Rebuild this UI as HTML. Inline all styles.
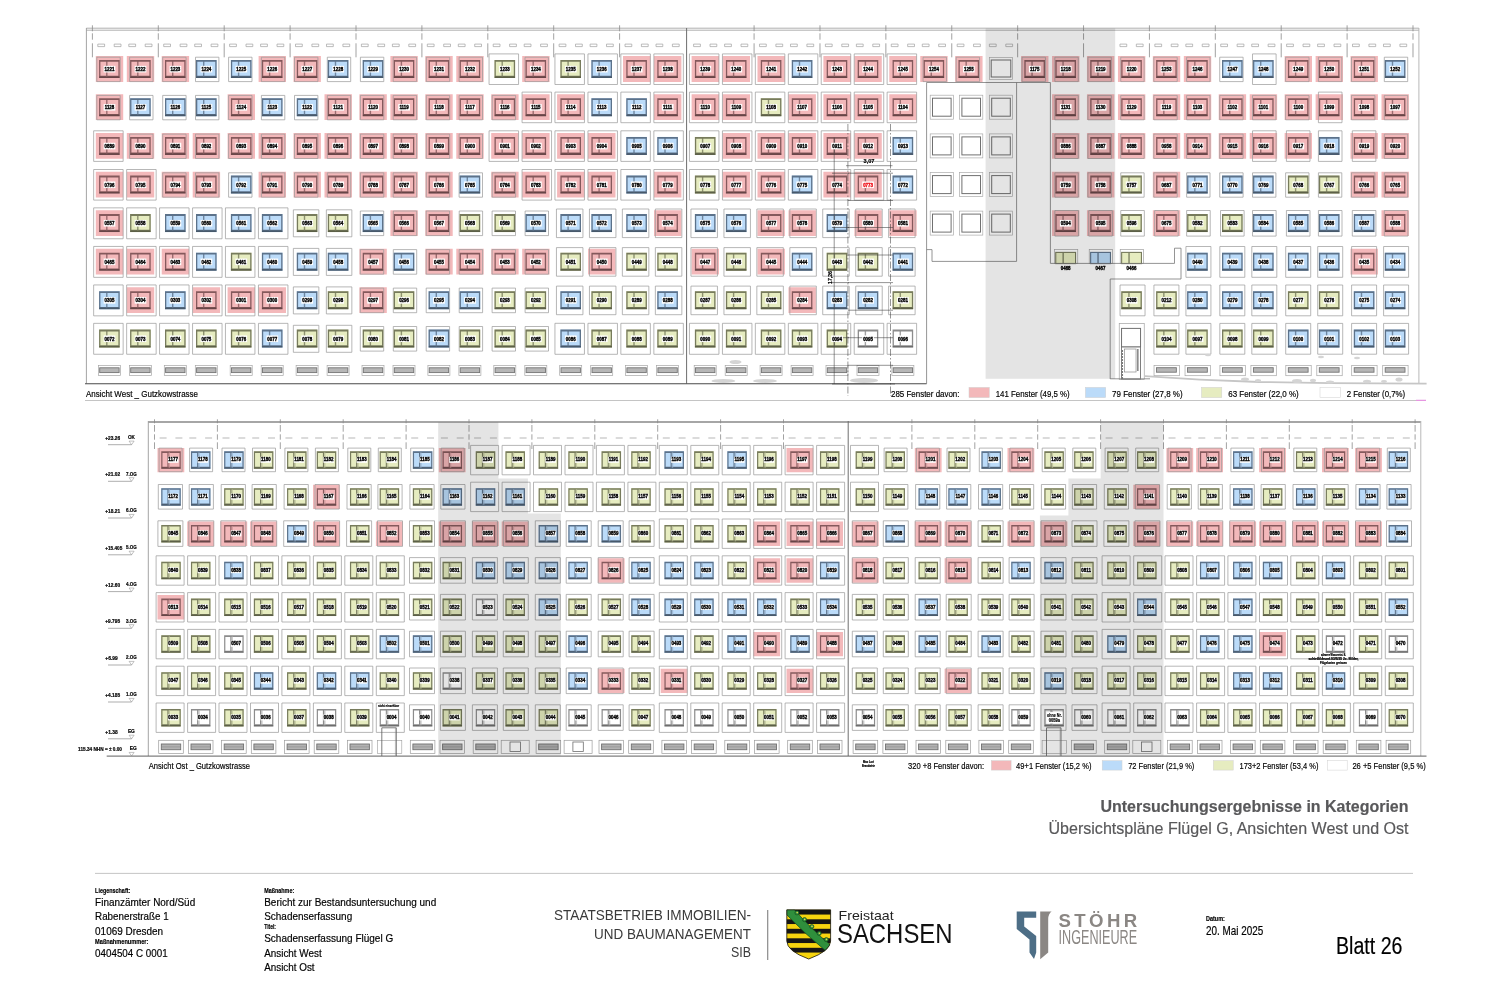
<!DOCTYPE html>
<html><head><meta charset="utf-8"><title>Blatt 26</title>
<style>
html,body{margin:0;padding:0;background:#fff}
body{width:1499px;height:1000px;overflow:hidden;font-family:"Liberation Sans",sans-serif}
svg{display:block}
svg text{font-family:"Liberation Sans",sans-serif}
#lt text{font-size:5.7px;font-weight:bold;text-anchor:middle;stroke:#000;stroke-width:0.4px}
</style></head><body>
<svg width="1499" height="1000" viewBox="0 0 1499 1000">
<defs>
<g id="wR"><rect x="-10.3" y="-9" width="20.6" height="18" fill="#F3B8BA"/><path d="M-10.3 -9h20.6v18h-20.6zM-9 -7.2h18v13.9h-18z" fill="#85595C" fill-rule="evenodd"/><rect x="-10.3" y="7.39" width="20.6" height="1.61" fill="#000" opacity="0.22"/><line x1="-2.6" y1="-8" x2="-2.6" y2="8" stroke="#85595C" stroke-width="1.4" opacity="0.8"/></g>
<g id="eR"><rect x="-9.75" y="-8.75" width="19.5" height="17.5" fill="#F3B8BA"/><path d="M-9.75 -8.75h19.5v17.5h-19.5zM-8.55 -7.15h17.1v13.8h-17.1z" fill="#85595C" fill-rule="evenodd"/><rect x="-9.75" y="7.28" width="19.5" height="1.47" fill="#000" opacity="0.22"/><line x1="-1.75" y1="-7.75" x2="-1.75" y2="7.75" stroke="#C79294" stroke-width="1.5" opacity="0.7"/><line x1="-3.05" y1="-7.75" x2="-3.05" y2="7.75" stroke="#85595C" stroke-width="1.1"/></g>
<g id="wB"><rect x="-10.3" y="-9" width="20.6" height="18" fill="#BBDBF9"/><path d="M-10.3 -9h20.6v18h-20.6zM-9 -7.2h18v13.9h-18z" fill="#5C728A" fill-rule="evenodd"/><rect x="-10.3" y="7.39" width="20.6" height="1.61" fill="#000" opacity="0.22"/><line x1="-2.6" y1="-8" x2="-2.6" y2="8" stroke="#5C728A" stroke-width="1.4" opacity="0.8"/></g>
<g id="eB"><rect x="-9.75" y="-8.75" width="19.5" height="17.5" fill="#BBDBF9"/><path d="M-9.75 -8.75h19.5v17.5h-19.5zM-8.55 -7.15h17.1v13.8h-17.1z" fill="#5C728A" fill-rule="evenodd"/><rect x="-9.75" y="7.28" width="19.5" height="1.47" fill="#000" opacity="0.22"/><line x1="-1.75" y1="-7.75" x2="-1.75" y2="7.75" stroke="#93ADC8" stroke-width="1.5" opacity="0.7"/><line x1="-3.05" y1="-7.75" x2="-3.05" y2="7.75" stroke="#5C728A" stroke-width="1.1"/></g>
<g id="wG"><rect x="-10.3" y="-9" width="20.6" height="18" fill="#E6ECC0"/><path d="M-10.3 -9h20.6v18h-20.6zM-9 -7.2h18v13.9h-18z" fill="#777B5C" fill-rule="evenodd"/><rect x="-10.3" y="7.39" width="20.6" height="1.61" fill="#000" opacity="0.22"/><line x1="-2.6" y1="-8" x2="-2.6" y2="8" stroke="#777B5C" stroke-width="1.4" opacity="0.8"/></g>
<g id="eG"><rect x="-9.75" y="-8.75" width="19.5" height="17.5" fill="#E6ECC0"/><path d="M-9.75 -8.75h19.5v17.5h-19.5zM-8.55 -7.15h17.1v13.8h-17.1z" fill="#777B5C" fill-rule="evenodd"/><rect x="-9.75" y="7.28" width="19.5" height="1.47" fill="#000" opacity="0.22"/><line x1="-1.75" y1="-7.75" x2="-1.75" y2="7.75" stroke="#B5BA93" stroke-width="1.5" opacity="0.7"/><line x1="-3.05" y1="-7.75" x2="-3.05" y2="7.75" stroke="#777B5C" stroke-width="1.1"/></g>
<g id="wW"><rect x="-10.3" y="-9" width="20.6" height="18" fill="#FFFFFF"/><path d="M-10.3 -9h20.6v18h-20.6zM-9 -7.2h18v13.9h-18z" fill="#8C8C8C" fill-rule="evenodd"/><rect x="-10.3" y="7.39" width="20.6" height="1.61" fill="#000" opacity="0.22"/><line x1="-2.6" y1="-8" x2="-2.6" y2="8" stroke="#8C8C8C" stroke-width="1.4" opacity="0.8"/></g>
<g id="eW"><rect x="-9.75" y="-8.75" width="19.5" height="17.5" fill="#FFFFFF"/><path d="M-9.75 -8.75h19.5v17.5h-19.5zM-8.55 -7.15h17.1v13.8h-17.1z" fill="#8C8C8C" fill-rule="evenodd"/><rect x="-9.75" y="7.28" width="19.5" height="1.47" fill="#000" opacity="0.22"/><line x1="-1.75" y1="-7.75" x2="-1.75" y2="7.75" stroke="#B0B0B0" stroke-width="1.5" opacity="0.7"/><line x1="-3.05" y1="-7.75" x2="-3.05" y2="7.75" stroke="#8C8C8C" stroke-width="1.1"/></g>
<g id="tw"><rect x="-11.6" y="-12" width="23.2" height="24" fill="#fff" stroke="#ABABAB" stroke-width="0.7"/><rect x="-9.3" y="-9" width="18.6" height="18" fill="#fff" stroke="#707070" stroke-width="1"/></g>
<g id="bw"><rect x="-11" y="-5" width="22" height="10" fill="#fff" stroke="#A6A6A6" stroke-width="0.7"/><rect x="-9.7" y="-2.6" width="19.4" height="4.8" fill="#B6B6B6" stroke="#747474" stroke-width="0.9"/></g>
<g id="be"><rect x="-12.3" y="-6.6" width="24.6" height="13.2" fill="#fff" stroke="#9C9C9C" stroke-width="0.7"/><rect x="-9.7" y="-2.9" width="19.4" height="5.7" fill="#B2B2B2" stroke="#707070" stroke-width="0.9"/><line x1="-9.7" y1="0" x2="9.7" y2="0" stroke="#8A8A8A" stroke-width="0.6"/></g>
<rect id="lw" x="-5.75" y="-3.15" width="11.7" height="6.6" fill="#fff"/>
<rect id="le" x="-3.1" y="-3.3" width="10.6" height="6" fill="#fff"/>
</defs>
<rect width="1499" height="1000" fill="#fff"/>
<path d="M95.8 56.1h27.4v25.8h-27.4zM126.8 56.1h27.4v25.8h-27.4zM161.7 56.1h27.4v25.8h-27.4zM258.6 56.1h27.4v25.8h-27.4zM293.5 56.1h27.4v25.8h-27.4zM390.4 56.1h27.4v25.8h-27.4zM425.3 56.1h27.4v25.8h-27.4zM456.3 56.1h27.4v25.8h-27.4zM522.2 56.1h27.4v25.8h-27.4zM623 56.1h27.4v25.8h-27.4zM654 56.1h27.4v25.8h-27.4zM691.6 56.1h27.4v25.8h-27.4zM722.6 56.1h27.4v25.8h-27.4zM757.49 56.1h27.4v25.8h-27.4zM823.38 56.1h27.4v25.8h-27.4zM854.38 56.1h27.4v25.8h-27.4zM889.27 56.1h27.4v25.8h-27.4zM920.27 56.1h27.4v25.8h-27.4zM955.16 56.1h27.4v25.8h-27.4zM1021.05 56.1h27.4v25.8h-27.4zM1052.05 56.1h27.4v25.8h-27.4zM1086.94 56.1h27.4v25.8h-27.4zM1117.94 56.1h27.4v25.8h-27.4zM1152.83 56.1h27.4v25.8h-27.4zM1183.83 56.1h27.4v25.8h-27.4zM1284.61 56.1h27.4v25.8h-27.4zM1315.61 56.1h27.4v25.8h-27.4zM1350.5 56.1h27.4v25.8h-27.4zM95.8 94.3h27.4v25.8h-27.4zM227.6 94.3h27.4v25.8h-27.4zM324.5 94.3h27.4v25.8h-27.4zM359.4 94.3h27.4v25.8h-27.4zM390.4 94.3h27.4v25.8h-27.4zM425.3 94.3h27.4v25.8h-27.4zM456.3 94.3h27.4v25.8h-27.4zM491.2 94.3h27.4v25.8h-27.4zM522.2 94.3h27.4v25.8h-27.4zM557.1 94.3h27.4v25.8h-27.4zM654 94.3h27.4v25.8h-27.4zM691.6 94.3h27.4v25.8h-27.4zM722.6 94.3h27.4v25.8h-27.4zM788.49 94.3h27.4v25.8h-27.4zM823.38 94.3h27.4v25.8h-27.4zM854.38 94.3h27.4v25.8h-27.4zM889.27 94.3h27.4v25.8h-27.4zM1052.05 94.3h27.4v25.8h-27.4zM1086.94 94.3h27.4v25.8h-27.4zM1117.94 94.3h27.4v25.8h-27.4zM1152.83 94.3h27.4v25.8h-27.4zM1183.83 94.3h27.4v25.8h-27.4zM1218.72 94.3h27.4v25.8h-27.4zM1249.72 94.3h27.4v25.8h-27.4zM1284.61 94.3h27.4v25.8h-27.4zM1315.61 94.3h27.4v25.8h-27.4zM1350.5 94.3h27.4v25.8h-27.4zM1381.5 94.3h27.4v25.8h-27.4zM95.8 133h27.4v25.8h-27.4zM126.8 133h27.4v25.8h-27.4zM161.7 133h27.4v25.8h-27.4zM192.7 133h27.4v25.8h-27.4zM227.6 133h27.4v25.8h-27.4zM258.6 133h27.4v25.8h-27.4zM293.5 133h27.4v25.8h-27.4zM324.5 133h27.4v25.8h-27.4zM359.4 133h27.4v25.8h-27.4zM390.4 133h27.4v25.8h-27.4zM425.3 133h27.4v25.8h-27.4zM456.3 133h27.4v25.8h-27.4zM491.2 133h27.4v25.8h-27.4zM522.2 133h27.4v25.8h-27.4zM557.1 133h27.4v25.8h-27.4zM588.1 133h27.4v25.8h-27.4zM722.6 133h27.4v25.8h-27.4zM757.49 133h27.4v25.8h-27.4zM788.49 133h27.4v25.8h-27.4zM823.38 133h27.4v25.8h-27.4zM854.38 133h27.4v25.8h-27.4zM1052.05 133h27.4v25.8h-27.4zM1086.94 133h27.4v25.8h-27.4zM1117.94 133h27.4v25.8h-27.4zM1152.83 133h27.4v25.8h-27.4zM1183.83 133h27.4v25.8h-27.4zM1218.72 133h27.4v25.8h-27.4zM1249.72 133h27.4v25.8h-27.4zM1284.61 133h27.4v25.8h-27.4zM1350.5 133h27.4v25.8h-27.4zM1381.5 133h27.4v25.8h-27.4zM95.8 171.7h27.4v25.8h-27.4zM126.8 171.7h27.4v25.8h-27.4zM161.7 171.7h27.4v25.8h-27.4zM192.7 171.7h27.4v25.8h-27.4zM258.6 171.7h27.4v25.8h-27.4zM293.5 171.7h27.4v25.8h-27.4zM324.5 171.7h27.4v25.8h-27.4zM359.4 171.7h27.4v25.8h-27.4zM390.4 171.7h27.4v25.8h-27.4zM425.3 171.7h27.4v25.8h-27.4zM491.2 171.7h27.4v25.8h-27.4zM522.2 171.7h27.4v25.8h-27.4zM557.1 171.7h27.4v25.8h-27.4zM588.1 171.7h27.4v25.8h-27.4zM654 171.7h27.4v25.8h-27.4zM722.6 171.7h27.4v25.8h-27.4zM757.49 171.7h27.4v25.8h-27.4zM823.38 171.7h27.4v25.8h-27.4zM854.38 171.7h27.4v25.8h-27.4zM1052.05 171.7h27.4v25.8h-27.4zM1086.94 171.7h27.4v25.8h-27.4zM1152.83 171.7h27.4v25.8h-27.4zM1350.5 171.7h27.4v25.8h-27.4zM1381.5 171.7h27.4v25.8h-27.4zM95.8 210.2h27.4v25.8h-27.4zM390.4 210.2h27.4v25.8h-27.4zM425.3 210.2h27.4v25.8h-27.4zM654 210.2h27.4v25.8h-27.4zM757.49 210.2h27.4v25.8h-27.4zM788.49 210.2h27.4v25.8h-27.4zM854.38 210.2h27.4v25.8h-27.4zM889.27 210.2h27.4v25.8h-27.4zM1052.05 210.2h27.4v25.8h-27.4zM1086.94 210.2h27.4v25.8h-27.4zM1152.83 210.2h27.4v25.8h-27.4zM1381.5 210.2h27.4v25.8h-27.4zM95.8 248.8h27.4v25.8h-27.4zM126.8 248.8h27.4v25.8h-27.4zM161.7 248.8h27.4v25.8h-27.4zM359.4 248.8h27.4v25.8h-27.4zM425.3 248.8h27.4v25.8h-27.4zM456.3 248.8h27.4v25.8h-27.4zM491.2 248.8h27.4v25.8h-27.4zM522.2 248.8h27.4v25.8h-27.4zM588.1 248.8h27.4v25.8h-27.4zM691.6 248.8h27.4v25.8h-27.4zM757.49 248.8h27.4v25.8h-27.4zM1350.5 248.8h27.4v25.8h-27.4zM126.8 287.3h27.4v25.8h-27.4zM192.7 287.3h27.4v25.8h-27.4zM227.6 287.3h27.4v25.8h-27.4zM258.6 287.3h27.4v25.8h-27.4zM359.4 287.3h27.4v25.8h-27.4zM788.49 287.3h27.4v25.8h-27.4zM157.5 447.9h26.8v24.4h-26.8zM438.8 447.9h26.8v24.4h-26.8zM786.5 447.9h26.8v24.4h-26.8zM914.8 447.9h26.8v24.4h-26.8zM1007.5 447.9h26.8v24.4h-26.8zM1166.4 447.9h26.8v24.4h-26.8zM1196.2 447.9h26.8v24.4h-26.8zM1259.1 447.9h26.8v24.4h-26.8zM1322 447.9h26.8v24.4h-26.8zM1355.1 447.9h26.8v24.4h-26.8zM313 484.7h26.8v24.4h-26.8zM1133.3 484.7h26.8v24.4h-26.8zM187.2 521.5h26.8v24.4h-26.8zM220.4 521.5h26.8v24.4h-26.8zM250.1 521.5h26.8v24.4h-26.8zM313 521.5h26.8v24.4h-26.8zM375.9 521.5h26.8v24.4h-26.8zM438.8 521.5h26.8v24.4h-26.8zM472 521.5h26.8v24.4h-26.8zM501.7 521.5h26.8v24.4h-26.8zM753.3 521.5h26.8v24.4h-26.8zM786.5 521.5h26.8v24.4h-26.8zM816.2 521.5h26.8v24.4h-26.8zM851.9 521.5h26.8v24.4h-26.8zM914.8 521.5h26.8v24.4h-26.8zM944.6 521.5h26.8v24.4h-26.8zM1007.5 521.5h26.8v24.4h-26.8zM1040.6 521.5h26.8v24.4h-26.8zM1133.3 521.5h26.8v24.4h-26.8zM1166.4 521.5h26.8v24.4h-26.8zM1196.2 521.5h26.8v24.4h-26.8zM1229.3 521.5h26.8v24.4h-26.8zM1259.1 521.5h26.8v24.4h-26.8zM1292.2 521.5h26.8v24.4h-26.8zM1322 521.5h26.8v24.4h-26.8zM1355.1 521.5h26.8v24.4h-26.8zM597.8 558.3h26.8v24.4h-26.8zM753.3 558.3h26.8v24.4h-26.8zM786.5 558.3h26.8v24.4h-26.8zM851.9 558.3h26.8v24.4h-26.8zM944.6 558.3h26.8v24.4h-26.8zM157.5 595.1h26.8v24.4h-26.8zM753.3 631.9h26.8v24.4h-26.8zM816.2 631.9h26.8v24.4h-26.8zM1259.1 631.9h26.8v24.4h-26.8zM597.8 668.7h26.8v24.4h-26.8zM660.7 668.7h26.8v24.4h-26.8zM786.5 668.7h26.8v24.4h-26.8zM944.6 668.7h26.8v24.4h-26.8z" fill="#F3B8BA"/>
<path d="M96.8 57.2h23.4v24.4h-23.4zM129.6 57.2h23.4v24.4h-23.4zM162.7 57.2h23.4v24.4h-23.4zM195.5 57.2h23.4v24.4h-23.4zM228.6 57.2h23.4v24.4h-23.4zM261.4 57.2h23.4v24.4h-23.4zM294.5 57.2h23.4v24.4h-23.4zM327.3 57.2h23.4v24.4h-23.4zM360.4 57.2h23.4v24.4h-23.4zM393.2 57.2h23.4v24.4h-23.4zM426.3 57.2h23.4v24.4h-23.4zM459.1 57.2h23.4v24.4h-23.4zM489.05 53.9h29.5v30.6h-29.5zM525 57.2h23.4v24.4h-23.4zM554.95 53.9h29.5v30.6h-29.5zM587.95 53.9h29.5v30.6h-29.5zM620.85 53.9h29.5v30.6h-29.5zM653.85 53.9h29.5v30.6h-29.5zM689.45 53.9h29.5v30.6h-29.5zM722.45 53.9h29.5v30.6h-29.5zM755.34 53.9h29.5v30.6h-29.5zM788.34 53.9h29.5v30.6h-29.5zM821.23 53.9h29.5v30.6h-29.5zM854.23 53.9h29.5v30.6h-29.5zM887.12 53.9h29.5v30.6h-29.5zM923.07 57.2h23.4v24.4h-23.4zM956.16 57.2h23.4v24.4h-23.4zM1022.05 57.2h23.4v24.4h-23.4zM1054.85 57.2h23.4v24.4h-23.4zM1087.94 57.2h23.4v24.4h-23.4zM1120.74 57.2h23.4v24.4h-23.4zM1153.83 57.2h23.4v24.4h-23.4zM1186.63 57.2h23.4v24.4h-23.4zM1219.72 57.2h23.4v24.4h-23.4zM1252.52 53.9h23.6v30.6h-23.6zM1285.61 57.2h23.4v24.4h-23.4zM1318.41 57.2h23.4v24.4h-23.4zM1351.5 57.2h23.4v24.4h-23.4zM1384.3 57.2h23.4v24.4h-23.4zM96.8 95.4h23.4v24.4h-23.4zM129.6 95.4h23.4v24.4h-23.4zM162.7 95.4h23.4v24.4h-23.4zM195.5 95.4h23.4v24.4h-23.4zM228.6 95.4h23.4v24.4h-23.4zM261.4 95.4h23.4v24.4h-23.4zM294.5 95.4h23.4v24.4h-23.4zM327.3 95.4h23.4v24.4h-23.4zM360.4 95.4h23.4v24.4h-23.4zM393.2 95.4h23.4v24.4h-23.4zM426.3 95.4h23.4v24.4h-23.4zM459.1 95.4h23.4v24.4h-23.4zM492.2 95.4h23.4v24.4h-23.4zM522.05 92.1h29.5v30.6h-29.5zM554.95 92.1h29.5v30.6h-29.5zM587.95 92.1h29.5v30.6h-29.5zM620.85 92.1h29.5v30.6h-29.5zM653.85 92.1h29.5v30.6h-29.5zM689.45 92.1h29.5v30.6h-29.5zM722.45 92.1h29.5v30.6h-29.5zM755.34 92.1h29.5v30.6h-29.5zM788.34 92.1h29.5v30.6h-29.5zM821.23 92.1h29.5v30.6h-29.5zM854.23 92.1h29.5v30.6h-29.5zM887.12 92.1h29.5v30.6h-29.5zM1054.85 95.4h23.4v24.4h-23.4zM1087.94 95.4h23.4v24.4h-23.4zM1120.74 95.4h23.4v24.4h-23.4zM1153.83 95.4h23.4v24.4h-23.4zM1186.63 95.4h23.4v24.4h-23.4zM1219.72 95.4h23.4v24.4h-23.4zM1252.52 95.4h23.4v24.4h-23.4zM1285.61 95.4h23.4v24.4h-23.4zM1318.41 92.1h23.6v30.6h-23.6zM1351.5 95.4h23.4v24.4h-23.4zM1384.3 95.4h23.4v24.4h-23.4zM93.65 130.8h29.5v30.6h-29.5zM129.6 134.1h23.4v24.4h-23.4zM162.7 134.1h23.4v24.4h-23.4zM195.5 134.1h23.4v24.4h-23.4zM228.6 134.1h23.4v24.4h-23.4zM261.4 134.1h23.4v24.4h-23.4zM294.5 134.1h23.4v24.4h-23.4zM327.3 134.1h23.4v24.4h-23.4zM360.4 134.1h23.4v24.4h-23.4zM393.2 134.1h23.4v24.4h-23.4zM426.3 134.1h23.4v24.4h-23.4zM459.1 134.1h23.4v24.4h-23.4zM489.05 130.8h29.5v30.6h-29.5zM522.05 130.8h29.5v30.6h-29.5zM554.95 130.8h29.5v30.6h-29.5zM587.95 130.8h29.5v30.6h-29.5zM620.85 130.8h29.5v30.6h-29.5zM653.85 130.8h29.5v30.6h-29.5zM689.45 130.8h29.5v30.6h-29.5zM722.45 130.8h29.5v30.6h-29.5zM755.34 130.8h29.5v30.6h-29.5zM788.34 130.8h29.5v30.6h-29.5zM821.23 130.8h29.5v30.6h-29.5zM854.23 130.8h29.5v30.6h-29.5zM887.12 130.8h29.5v30.6h-29.5zM1054.85 134.1h23.4v24.4h-23.4zM1087.94 134.1h23.4v24.4h-23.4zM1120.74 134.1h23.4v24.4h-23.4zM1153.83 134.1h23.4v24.4h-23.4zM1186.63 134.1h23.4v24.4h-23.4zM1219.72 134.1h23.4v24.4h-23.4zM1252.52 130.8h23.6v30.6h-23.6zM1286.41 130.8h23.6v30.6h-23.6zM1318.41 130.8h23.6v30.6h-23.6zM1352.3 130.8h23.6v30.6h-23.6zM1384.3 134.1h23.4v24.4h-23.4zM93.65 169.5h29.5v30.6h-29.5zM126.65 169.5h29.5v30.6h-29.5zM162.7 172.8h23.4v24.4h-23.4zM195.5 172.8h23.4v24.4h-23.4zM228.6 172.8h23.4v24.4h-23.4zM261.4 172.8h23.4v24.4h-23.4zM294.5 172.8h23.4v24.4h-23.4zM327.3 172.8h23.4v24.4h-23.4zM360.4 172.8h23.4v24.4h-23.4zM393.2 172.8h23.4v24.4h-23.4zM426.3 172.8h23.4v24.4h-23.4zM459.1 172.8h23.4v24.4h-23.4zM492.2 172.8h23.4v24.4h-23.4zM522.05 169.5h29.5v30.6h-29.5zM554.95 169.5h29.5v30.6h-29.5zM587.95 169.5h29.5v30.6h-29.5zM620.85 169.5h29.5v30.6h-29.5zM653.85 169.5h29.5v30.6h-29.5zM689.45 169.5h29.5v30.6h-29.5zM722.45 169.5h29.5v30.6h-29.5zM755.34 169.5h29.5v30.6h-29.5zM788.34 169.5h29.5v30.6h-29.5zM821.23 169.5h29.5v30.6h-29.5zM854.23 169.5h29.5v30.6h-29.5zM887.12 169.5h29.5v30.6h-29.5zM1054.85 172.8h23.4v24.4h-23.4zM1087.94 172.8h23.4v24.4h-23.4zM1120.74 172.8h23.4v24.4h-23.4zM1153.83 172.8h23.4v24.4h-23.4zM1186.63 172.8h23.4v24.4h-23.4zM1219.72 172.8h23.4v24.4h-23.4zM1252.52 172.8h23.4v24.4h-23.4zM1285.61 172.8h23.4v24.4h-23.4zM1318.41 172.8h23.4v24.4h-23.4zM1351.5 172.8h23.4v24.4h-23.4zM1384.3 172.8h23.4v24.4h-23.4zM93.65 207.85h29.5v30.9h-29.5zM126.65 207.85h29.5v30.9h-29.5zM159.55 207.85h29.5v30.9h-29.5zM192.55 207.85h29.5v30.9h-29.5zM225.45 207.85h29.5v30.9h-29.5zM258.45 207.85h29.5v30.9h-29.5zM293.35 209.8h25.5v27h-25.5zM326.35 209.8h25.5v27h-25.5zM360.3 211h23.4v24.6h-23.4zM393.3 211h23.4v24.6h-23.4zM426.2 211h23.4v24.6h-23.4zM459.2 211h23.4v24.6h-23.4zM492.1 211h23.4v24.6h-23.4zM525.1 211h23.4v24.6h-23.4zM556.45 209h26.5v28.6h-26.5zM589.45 209h26.5v28.6h-26.5zM622.35 209h26.5v28.6h-26.5zM655.35 209h26.5v28.6h-26.5zM690.95 209h26.5v28.6h-26.5zM723.95 209h26.5v28.6h-26.5zM756.84 209h26.5v28.6h-26.5zM789.84 209h26.5v28.6h-26.5zM822.73 209h26.5v28.6h-26.5zM855.73 209h26.5v28.6h-26.5zM888.62 209h26.5v28.6h-26.5zM1054.85 210.5h23.6v25.6h-23.6zM1088.74 210.5h23.6v25.6h-23.6zM1120.74 210.5h23.6v25.6h-23.6zM1154.63 210.5h23.6v25.6h-23.6zM1186.63 210.5h23.6v25.6h-23.6zM1220.52 210.5h23.6v25.6h-23.6zM1252.52 210.5h23.6v25.6h-23.6zM1286.41 210.5h23.6v25.6h-23.6zM1318.41 210.5h23.6v25.6h-23.6zM1352.3 210.5h23.6v25.6h-23.6zM1384.3 210.5h23.6v25.6h-23.6zM93.65 246.45h29.5v30.9h-29.5zM126.65 246.45h29.5v30.9h-29.5zM159.55 246.45h29.5v30.9h-29.5zM192.55 246.45h29.5v30.9h-29.5zM225.45 246.45h29.5v30.9h-29.5zM258.45 246.45h29.5v30.9h-29.5zM293.35 248.4h25.5v27h-25.5zM326.35 248.4h25.5v27h-25.5zM360.3 249.6h23.4v24.6h-23.4zM393.3 249.6h23.4v24.6h-23.4zM426.2 249.6h23.4v24.6h-23.4zM459.2 249.6h23.4v24.6h-23.4zM492.1 249.6h23.4v24.6h-23.4zM525.1 249.6h23.4v24.6h-23.4zM556.45 247.6h26.5v28.6h-26.5zM589.45 247.6h26.5v28.6h-26.5zM622.35 247.6h26.5v28.6h-26.5zM655.35 247.6h26.5v28.6h-26.5zM690.95 247.6h26.5v28.6h-26.5zM723.95 247.6h26.5v28.6h-26.5zM756.84 247.6h26.5v28.6h-26.5zM789.84 247.6h26.5v28.6h-26.5zM822.73 247.6h26.5v28.6h-26.5zM855.73 247.6h26.5v28.6h-26.5zM888.62 247.6h26.5v28.6h-26.5zM1185.93 246.5h25v30.8h-25zM1219.82 246.5h25v30.8h-25zM1251.82 246.5h25v30.8h-25zM1285.71 246.5h25v30.8h-25zM1317.71 246.5h25v30.8h-25zM1351.6 246.5h25v30.8h-25zM1383.6 246.5h25v30.8h-25zM93.65 284.95h29.5v30.9h-29.5zM126.65 284.95h29.5v30.9h-29.5zM159.55 284.95h29.5v30.9h-29.5zM192.55 284.95h29.5v30.9h-29.5zM225.45 284.95h29.5v30.9h-29.5zM258.45 284.95h29.5v30.9h-29.5zM293.35 286.9h25.5v27h-25.5zM326.35 286.9h25.5v27h-25.5zM360.3 288.1h23.4v24.6h-23.4zM393.3 288.1h23.4v24.6h-23.4zM426.2 288.1h23.4v24.6h-23.4zM459.2 288.1h23.4v24.6h-23.4zM492.1 288.1h23.4v24.6h-23.4zM525.1 288.1h23.4v24.6h-23.4zM556.45 286.1h26.5v28.6h-26.5zM589.45 286.1h26.5v28.6h-26.5zM622.35 286.1h26.5v28.6h-26.5zM655.35 286.1h26.5v28.6h-26.5zM690.95 286.1h26.5v28.6h-26.5zM723.95 286.1h26.5v28.6h-26.5zM756.84 286.1h26.5v28.6h-26.5zM789.84 286.1h26.5v28.6h-26.5zM822.73 286.1h26.5v28.6h-26.5zM855.73 286.1h26.5v28.6h-26.5zM888.62 286.1h26.5v28.6h-26.5zM1120.04 285h25v30.8h-25zM1153.93 285h25v30.8h-25zM1185.93 285h25v30.8h-25zM1219.82 285h25v30.8h-25zM1251.82 285h25v30.8h-25zM1285.71 285h25v30.8h-25zM1317.71 285h25v30.8h-25zM1351.6 285h25v30.8h-25zM1383.6 285h25v30.8h-25zM93.65 323.35h29.5v30.9h-29.5zM126.65 323.35h29.5v30.9h-29.5zM159.55 323.35h29.5v30.9h-29.5zM192.55 323.35h29.5v30.9h-29.5zM225.45 323.35h29.5v30.9h-29.5zM258.45 323.35h29.5v30.9h-29.5zM293.35 325.3h25.5v27h-25.5zM326.35 325.3h25.5v27h-25.5zM360.3 326.5h23.4v24.6h-23.4zM393.3 326.5h23.4v24.6h-23.4zM426.2 326.5h23.4v24.6h-23.4zM459.2 326.5h23.4v24.6h-23.4zM492.1 326.5h23.4v24.6h-23.4zM525.1 326.5h23.4v24.6h-23.4zM554.95 323.3h29.5v31h-29.5zM587.95 323.3h29.5v31h-29.5zM620.85 323.3h29.5v31h-29.5zM653.85 323.3h29.5v31h-29.5zM689.45 323.3h29.5v31h-29.5zM722.45 323.3h29.5v31h-29.5zM755.34 323.3h29.5v31h-29.5zM788.34 323.3h29.5v31h-29.5zM821.23 323.3h29.5v31h-29.5zM854.23 323.3h29.5v31h-29.5zM887.12 323.3h29.5v31h-29.5zM1153.93 323.4h25v30.8h-25zM1185.93 323.4h25v30.8h-25zM1219.82 323.4h25v30.8h-25zM1251.82 323.4h25v30.8h-25zM1285.71 323.4h25v30.8h-25zM1317.71 323.4h25v30.8h-25zM1351.6 323.4h25v30.8h-25zM1383.6 323.4h25v30.8h-25zM159.1 448.1h23v23.6h-23zM189.6 448.1h23v23.6h-23zM222 448.1h23v23.6h-23zM252.5 448.1h23v23.6h-23zM284.9 448.1h23v23.6h-23zM315.4 448.1h23v23.6h-23zM347.8 448.1h23v23.6h-23zM378.3 448.1h23v23.6h-23zM410.7 448.1h23v23.6h-23zM441.2 448.1h23v23.6h-23zM470.6 445.4h28v29.4h-28zM502.1 445.4h28v29.4h-28zM533.5 445.4h28v29.4h-28zM565 445.4h28v29.4h-28zM596.4 445.4h28v29.4h-28zM627.9 445.4h28v29.4h-28zM659.3 445.4h28v29.4h-28zM690.8 445.4h28v29.4h-28zM722.2 445.4h28v29.4h-28zM753.7 445.4h28v29.4h-28zM785.1 445.4h28v29.4h-28zM816.6 445.4h28v29.4h-28zM850.5 445.4h28v29.4h-28zM884.1 448.1h23v23.6h-23zM916.4 448.1h23v23.6h-23zM947 448.1h23v23.6h-23zM979.3 448.1h23v23.6h-23zM1009.9 448.1h23v23.6h-23zM1042.2 448.1h23v23.6h-23zM1072.8 448.1h23v23.6h-23zM1105.1 448.1h23v23.6h-23zM1135.7 448.1h23v23.6h-23zM1168 448.1h23v23.6h-23zM1198.6 448.1h23v23.6h-23zM1230.9 448.1h23v23.6h-23zM1261.5 448.1h23v23.6h-23zM1293.8 448.1h23v23.6h-23zM1324.4 448.1h23v23.6h-23zM1356.7 448.1h23v23.6h-23zM1387.3 448.1h23v23.6h-23zM158.3 484.5h24.2v24.6h-24.2zM189.2 484.5h24.2v24.6h-24.2zM221.2 484.5h24.2v24.6h-24.2zM252.1 484.5h24.2v24.6h-24.2zM284.1 484.5h24.2v24.6h-24.2zM315 484.5h24.2v24.6h-24.2zM347 484.5h24.2v24.6h-24.2zM377.9 484.5h24.2v24.6h-24.2zM409.9 484.5h24.2v24.6h-24.2zM440.8 484.5h24.2v24.6h-24.2zM470.6 482.2h28v29.4h-28zM502.1 482.2h28v29.4h-28zM533.5 482.2h28v29.4h-28zM565 482.2h28v29.4h-28zM596.4 482.2h28v29.4h-28zM627.9 482.2h28v29.4h-28zM659.3 482.2h28v29.4h-28zM690.8 482.2h28v29.4h-28zM722.2 482.2h28v29.4h-28zM753.7 482.2h28v29.4h-28zM785.1 482.2h28v29.4h-28zM816.6 482.2h28v29.4h-28zM850.5 482.2h28v29.4h-28zM883.7 484.5h24.2v24.6h-24.2zM915.6 484.5h24.2v24.6h-24.2zM946.6 484.5h24.2v24.6h-24.2zM978.5 484.5h24.2v24.6h-24.2zM1009.5 484.5h24.2v24.6h-24.2zM1041.4 484.5h24.2v24.6h-24.2zM1072.4 484.5h24.2v24.6h-24.2zM1104.3 484.5h24.2v24.6h-24.2zM1135.3 484.5h24.2v24.6h-24.2zM1167.2 484.5h24.2v24.6h-24.2zM1198.2 484.5h24.2v24.6h-24.2zM1230.1 484.5h24.2v24.6h-24.2zM1261.1 484.5h24.2v24.6h-24.2zM1293 484.5h24.2v24.6h-24.2zM1324 484.5h24.2v24.6h-24.2zM1355.9 484.5h24.2v24.6h-24.2zM1386.9 484.5h24.2v24.6h-24.2zM157.9 520.8h25v25.6h-25zM188.8 520.8h25v25.6h-25zM220.8 520.8h25v25.6h-25zM251.7 520.8h25v25.6h-25zM283.7 520.8h25v25.6h-25zM314.6 520.8h25v25.6h-25zM346.6 520.8h25v25.6h-25zM377.5 520.8h25v25.6h-25zM409.5 520.8h25v25.6h-25zM440.4 520.8h25v25.6h-25zM472.4 520.8h25v25.6h-25zM503.3 520.8h25v25.6h-25zM535.3 520.8h25v25.6h-25zM566.2 520.8h25v25.6h-25zM598.2 520.8h25v25.6h-25zM629.1 520.8h25v25.6h-25zM659.3 519h28v29.4h-28zM690.8 519h28v29.4h-28zM722.2 519h28v29.4h-28zM753.7 519h28v29.4h-28zM785.1 519h28v29.4h-28zM816.6 519h28v29.4h-28zM852.3 520.8h25v25.6h-25zM883.3 520.8h25v25.6h-25zM915.2 520.8h25v25.6h-25zM946.2 520.8h25v25.6h-25zM978.1 520.8h25v25.6h-25zM1009.1 520.8h25v25.6h-25zM1041 520.8h25v25.6h-25zM1072 520.8h25v25.6h-25zM1103.9 520.8h25v25.6h-25zM1134.9 520.8h25v25.6h-25zM1166.8 520.8h25v25.6h-25zM1197.8 520.8h25v25.6h-25zM1229.7 520.8h25v25.6h-25zM1260.7 520.8h25v25.6h-25zM1292.6 520.8h25v25.6h-25zM1323.6 520.8h25v25.6h-25zM1355.5 520.8h25v25.6h-25zM1386.5 520.8h25v25.6h-25zM156.1 555.8h28v29.4h-28zM187.6 555.8h28v29.4h-28zM219 555.8h28v29.4h-28zM250.5 555.8h28v29.4h-28zM281.9 555.8h28v29.4h-28zM313.4 555.8h28v29.4h-28zM344.8 555.8h28v29.4h-28zM376.3 555.8h28v29.4h-28zM409.5 557.6h25v25.6h-25zM440.4 557.6h25v25.6h-25zM472.4 557.6h25v25.6h-25zM503.3 557.6h25v25.6h-25zM535.3 557.6h25v25.6h-25zM566.2 557.6h25v25.6h-25zM598.2 557.6h25v25.6h-25zM629.1 557.6h25v25.6h-25zM659.3 555.8h28v29.4h-28zM690.8 555.8h28v29.4h-28zM722.2 555.8h28v29.4h-28zM753.7 555.8h28v29.4h-28zM785.1 555.8h28v29.4h-28zM816.6 555.8h28v29.4h-28zM852.3 557.6h25v25.6h-25zM883.3 557.6h25v25.6h-25zM915.2 557.6h25v25.6h-25zM946.2 557.6h25v25.6h-25zM978.1 557.6h25v25.6h-25zM1009.1 557.6h25v25.6h-25zM1041 557.6h25v25.6h-25zM1072 557.6h25v25.6h-25zM1102.1 555.8h28v29.4h-28zM1133.7 555.8h28v29.4h-28zM1165 555.8h28v29.4h-28zM1196.6 555.8h28v29.4h-28zM1227.9 555.8h28v29.4h-28zM1259.5 555.8h28v29.4h-28zM1290.8 555.8h28v29.4h-28zM1322.4 555.8h28v29.4h-28zM1353.7 555.8h28v29.4h-28zM1385.3 555.8h28v29.4h-28zM156.1 592.6h28v29.4h-28zM187.6 592.6h28v29.4h-28zM219 592.6h28v29.4h-28zM250.5 592.6h28v29.4h-28zM281.9 592.6h28v29.4h-28zM313.4 592.6h28v29.4h-28zM344.8 592.6h28v29.4h-28zM376.3 592.6h28v29.4h-28zM409.5 594.4h25v25.6h-25zM440.4 594.4h25v25.6h-25zM472.4 594.4h25v25.6h-25zM503.3 594.4h25v25.6h-25zM535.3 594.4h25v25.6h-25zM566.2 594.4h25v25.6h-25zM598.2 594.4h25v25.6h-25zM629.1 594.4h25v25.6h-25zM659.3 592.6h28v29.4h-28zM690.8 592.6h28v29.4h-28zM722.2 592.6h28v29.4h-28zM753.7 592.6h28v29.4h-28zM785.1 592.6h28v29.4h-28zM816.6 592.6h28v29.4h-28zM852.3 594.4h25v25.6h-25zM883.3 594.4h25v25.6h-25zM915.2 594.4h25v25.6h-25zM946.2 594.4h25v25.6h-25zM978.1 594.4h25v25.6h-25zM1009.1 594.4h25v25.6h-25zM1041 594.4h25v25.6h-25zM1072 594.4h25v25.6h-25zM1102.1 592.6h28v29.4h-28zM1133.7 592.6h28v29.4h-28zM1165 592.6h28v29.4h-28zM1196.6 592.6h28v29.4h-28zM1227.9 592.6h28v29.4h-28zM1259.5 592.6h28v29.4h-28zM1290.8 592.6h28v29.4h-28zM1322.4 592.6h28v29.4h-28zM1353.7 592.6h28v29.4h-28zM1385.3 592.6h28v29.4h-28zM156.1 629.4h28v29.4h-28zM187.6 629.4h28v29.4h-28zM219 629.4h28v29.4h-28zM250.5 629.4h28v29.4h-28zM281.9 629.4h28v29.4h-28zM313.4 629.4h28v29.4h-28zM344.8 629.4h28v29.4h-28zM376.3 629.4h28v29.4h-28zM409.5 631.2h25v25.6h-25zM440.4 631.2h25v25.6h-25zM472.4 631.2h25v25.6h-25zM503.3 631.2h25v25.6h-25zM535.3 631.2h25v25.6h-25zM566.2 631.2h25v25.6h-25zM598.2 631.2h25v25.6h-25zM629.1 631.2h25v25.6h-25zM659.3 629.4h28v29.4h-28zM690.8 629.4h28v29.4h-28zM722.2 629.4h28v29.4h-28zM753.7 629.4h28v29.4h-28zM785.1 629.4h28v29.4h-28zM816.6 629.4h28v29.4h-28zM852.3 631.2h25v25.6h-25zM883.3 631.2h25v25.6h-25zM915.2 631.2h25v25.6h-25zM946.2 631.2h25v25.6h-25zM978.1 631.2h25v25.6h-25zM1009.1 631.2h25v25.6h-25zM1041 631.2h25v25.6h-25zM1072 631.2h25v25.6h-25zM1102.1 629.4h28v29.4h-28zM1133.7 629.4h28v29.4h-28zM1165 629.4h28v29.4h-28zM1196.6 629.4h28v29.4h-28zM1227.9 629.4h28v29.4h-28zM1259.5 629.4h28v29.4h-28zM1290.8 629.4h28v29.4h-28zM1322.4 629.4h28v29.4h-28zM1353.7 629.4h28v29.4h-28zM1385.3 629.4h28v29.4h-28zM156.1 666.2h28v29.4h-28zM187.6 666.2h28v29.4h-28zM219 666.2h28v29.4h-28zM250.5 666.2h28v29.4h-28zM281.9 666.2h28v29.4h-28zM313.4 666.2h28v29.4h-28zM344.8 666.2h28v29.4h-28zM376.3 666.2h28v29.4h-28zM409.5 668h25v25.6h-25zM440.4 668h25v25.6h-25zM472.4 668h25v25.6h-25zM503.3 668h25v25.6h-25zM535.3 668h25v25.6h-25zM566.2 668h25v25.6h-25zM598.2 668h25v25.6h-25zM629.1 668h25v25.6h-25zM659.3 666.2h28v29.4h-28zM690.8 666.2h28v29.4h-28zM722.2 666.2h28v29.4h-28zM753.7 666.2h28v29.4h-28zM785.1 666.2h28v29.4h-28zM816.6 666.2h28v29.4h-28zM852.3 668h25v25.6h-25zM883.3 668h25v25.6h-25zM915.2 668h25v25.6h-25zM946.2 668h25v25.6h-25zM978.1 668h25v25.6h-25zM1009.1 668h25v25.6h-25zM1041 668h25v25.6h-25zM1072 668h25v25.6h-25zM1102.1 666.2h28v29.4h-28zM1133.7 666.2h28v29.4h-28zM1165 666.2h28v29.4h-28zM1196.6 666.2h28v29.4h-28zM1227.9 666.2h28v29.4h-28zM1259.5 666.2h28v29.4h-28zM1290.8 666.2h28v29.4h-28zM1322.4 666.2h28v29.4h-28zM1353.7 666.2h28v29.4h-28zM1385.3 666.2h28v29.4h-28zM156.1 703h28v29.4h-28zM187.6 703h28v29.4h-28zM219 703h28v29.4h-28zM250.5 703h28v29.4h-28zM281.9 703h28v29.4h-28zM313.4 703h28v29.4h-28zM344.8 703h28v29.4h-28zM376.3 703h28v29.4h-28zM409.5 704.8h25v25.6h-25zM440.4 704.8h25v25.6h-25zM472.4 704.8h25v25.6h-25zM503.3 704.8h25v25.6h-25zM535.3 704.8h25v25.6h-25zM566.2 704.8h25v25.6h-25zM598.2 704.8h25v25.6h-25zM629.1 704.8h25v25.6h-25zM659.3 703h28v29.4h-28zM690.8 703h28v29.4h-28zM722.2 703h28v29.4h-28zM753.7 703h28v29.4h-28zM785.1 703h28v29.4h-28zM816.6 703h28v29.4h-28zM852.3 704.8h25v25.6h-25zM883.3 704.8h25v25.6h-25zM915.2 704.8h25v25.6h-25zM946.2 704.8h25v25.6h-25zM978.1 704.8h25v25.6h-25zM1009.1 704.8h25v25.6h-25zM1041 704.8h25v25.6h-25zM1072 704.8h25v25.6h-25zM1102.1 703h28v29.4h-28zM1133.7 703h28v29.4h-28zM1165 703h28v29.4h-28zM1196.6 703h28v29.4h-28zM1227.9 703h28v29.4h-28zM1259.5 703h28v29.4h-28zM1290.8 703h28v29.4h-28zM1322.4 703h28v29.4h-28zM1353.7 703h28v29.4h-28zM1385.3 703h28v29.4h-28z" fill="none" stroke="#989898" stroke-width="0.7"/>
<g id="base">
<line x1="86.4" y1="28.2" x2="1418.9" y2="28.2" stroke="#9A9A9A" stroke-width="0.8"/>
<line x1="86.4" y1="30.2" x2="1418.9" y2="30.2" stroke="#9A9A9A" stroke-width="0.8"/>
<line x1="86.4" y1="28" x2="86.4" y2="383.6" stroke="#9A9A9A" stroke-width="0.9"/>
<line x1="1418.9" y1="28" x2="1418.9" y2="383" stroke="#B0B0B0" stroke-width="0.9"/>
<line x1="686.6" y1="28" x2="686.6" y2="383.6" stroke="#6E6E6E" stroke-width="1"/>
<path d="M92.4 25.3V57.3M158.3 25.3V57.3M224.2 25.3V57.3M290.1 25.3V57.3M356 25.3V57.3M421.9 25.3V57.3M487.8 25.3V57.3M553.7 25.3V57.3M619.6 25.3V57.3M754.09 25.3V57.3M819.98 25.3V57.3M885.87 25.3V57.3M951.76 25.3V57.3M1017.65 25.3V57.3M1083.54 25.3V57.3M1149.43 25.3V57.3M1215.32 25.3V57.3M1281.21 25.3V57.3M1347.1 25.3V57.3M1412.99 25.3V57.3" stroke="#8A8A8A" stroke-width="0.8" stroke-dasharray="6 2 6.4 3.6 14 10" fill="none"/>
<path d="M97.8 44.1h6.8v2.5h-6.8zM114.2 44.1h6.8v2.5h-6.8zM128.8 44.1h6.8v2.5h-6.8zM145.2 44.1h6.8v2.5h-6.8zM163.7 44.1h6.8v2.5h-6.8zM180.1 44.1h6.8v2.5h-6.8zM194.7 44.1h6.8v2.5h-6.8zM211.1 44.1h6.8v2.5h-6.8zM229.6 44.1h6.8v2.5h-6.8zM246 44.1h6.8v2.5h-6.8zM260.6 44.1h6.8v2.5h-6.8zM277 44.1h6.8v2.5h-6.8zM295.5 44.1h6.8v2.5h-6.8zM311.9 44.1h6.8v2.5h-6.8zM326.5 44.1h6.8v2.5h-6.8zM342.9 44.1h6.8v2.5h-6.8zM361.4 44.1h6.8v2.5h-6.8zM377.8 44.1h6.8v2.5h-6.8zM392.4 44.1h6.8v2.5h-6.8zM408.8 44.1h6.8v2.5h-6.8zM427.3 44.1h6.8v2.5h-6.8zM443.7 44.1h6.8v2.5h-6.8zM458.3 44.1h6.8v2.5h-6.8zM474.7 44.1h6.8v2.5h-6.8zM493.2 44.1h6.8v2.5h-6.8zM509.6 44.1h6.8v2.5h-6.8zM524.2 44.1h6.8v2.5h-6.8zM540.6 44.1h6.8v2.5h-6.8zM559.1 44.1h6.8v2.5h-6.8zM575.5 44.1h6.8v2.5h-6.8zM590.1 44.1h6.8v2.5h-6.8zM606.5 44.1h6.8v2.5h-6.8zM625 44.1h6.8v2.5h-6.8zM641.4 44.1h6.8v2.5h-6.8zM656 44.1h6.8v2.5h-6.8zM672.4 44.1h6.8v2.5h-6.8zM693.6 44.1h6.8v2.5h-6.8zM710 44.1h6.8v2.5h-6.8zM724.6 44.1h6.8v2.5h-6.8zM741 44.1h6.8v2.5h-6.8zM759.49 44.1h6.8v2.5h-6.8zM775.89 44.1h6.8v2.5h-6.8zM790.49 44.1h6.8v2.5h-6.8zM806.89 44.1h6.8v2.5h-6.8zM825.38 44.1h6.8v2.5h-6.8zM841.78 44.1h6.8v2.5h-6.8zM856.38 44.1h6.8v2.5h-6.8zM872.78 44.1h6.8v2.5h-6.8zM891.27 44.1h6.8v2.5h-6.8zM907.67 44.1h6.8v2.5h-6.8zM922.27 44.1h6.8v2.5h-6.8zM938.67 44.1h6.8v2.5h-6.8zM957.16 44.1h6.8v2.5h-6.8zM973.56 44.1h6.8v2.5h-6.8zM989.4 44.1h6.8v2.5h-6.8zM1005.8 44.1h6.8v2.5h-6.8zM1119.94 44.1h6.8v2.5h-6.8zM1136.34 44.1h6.8v2.5h-6.8zM1154.83 44.1h6.8v2.5h-6.8zM1171.23 44.1h6.8v2.5h-6.8zM1185.83 44.1h6.8v2.5h-6.8zM1202.23 44.1h6.8v2.5h-6.8zM1220.72 44.1h6.8v2.5h-6.8zM1237.12 44.1h6.8v2.5h-6.8zM1251.72 44.1h6.8v2.5h-6.8zM1268.12 44.1h6.8v2.5h-6.8zM1286.61 44.1h6.8v2.5h-6.8zM1303.01 44.1h6.8v2.5h-6.8zM1317.61 44.1h6.8v2.5h-6.8zM1334.01 44.1h6.8v2.5h-6.8zM1352.5 44.1h6.8v2.5h-6.8zM1368.9 44.1h6.8v2.5h-6.8zM1383.5 44.1h6.8v2.5h-6.8zM1399.9 44.1h6.8v2.5h-6.8z" stroke="#A0A0A0" stroke-width="0.7" fill="#fff"/>
<use href="#wR" x="109.4" y="69"/>
<use href="#wR" x="140.4" y="69"/>
<use href="#wR" x="175.3" y="69"/>
<use href="#wB" x="206.3" y="69"/>
<use href="#wB" x="241.2" y="69"/>
<use href="#wR" x="272.2" y="69"/>
<use href="#wR" x="307.1" y="69"/>
<use href="#wB" x="338.1" y="69"/>
<use href="#wB" x="373" y="69"/>
<use href="#wR" x="404" y="69"/>
<use href="#wR" x="438.9" y="69"/>
<use href="#wR" x="469.9" y="69"/>
<use href="#wG" x="504.8" y="69"/>
<use href="#wR" x="535.8" y="69"/>
<use href="#wG" x="570.7" y="69"/>
<use href="#wB" x="601.7" y="69"/>
<use href="#wR" x="636.6" y="69"/>
<use href="#wR" x="667.6" y="69"/>
<use href="#wR" x="705.2" y="69"/>
<use href="#wR" x="736.2" y="69"/>
<use href="#wR" x="771.09" y="69"/>
<use href="#wB" x="802.09" y="69"/>
<use href="#wR" x="836.98" y="69"/>
<use href="#wR" x="867.98" y="69"/>
<use href="#wR" x="902.87" y="69"/>
<use href="#wR" x="933.87" y="69"/>
<use href="#wR" x="968.76" y="69"/>
<rect x="989.4" y="57.6" width="23.2" height="21.8" fill="#fff" stroke="#ABABAB" stroke-width="0.7"/>
<rect x="991.2" y="60" width="19.6" height="17" fill="#fff" stroke="#707070" stroke-width="1"/>
<use href="#wR" x="1034.65" y="69"/>
<use href="#wR" x="1065.65" y="69"/>
<use href="#wR" x="1100.54" y="69"/>
<use href="#wR" x="1131.54" y="69"/>
<use href="#wR" x="1166.43" y="69"/>
<use href="#wR" x="1197.43" y="69"/>
<use href="#wB" x="1232.32" y="69"/>
<use href="#wB" x="1263.32" y="69"/>
<use href="#wR" x="1298.21" y="69"/>
<use href="#wR" x="1329.21" y="69"/>
<use href="#wR" x="1364.1" y="69"/>
<use href="#wB" x="1395.1" y="69"/>
<use href="#wR" x="109.4" y="107.2"/>
<use href="#wB" x="140.4" y="107.2"/>
<use href="#wB" x="175.3" y="107.2"/>
<use href="#wB" x="206.3" y="107.2"/>
<use href="#wR" x="241.2" y="107.2"/>
<use href="#wB" x="272.2" y="107.2"/>
<use href="#wB" x="307.1" y="107.2"/>
<use href="#wR" x="338.1" y="107.2"/>
<use href="#wR" x="373" y="107.2"/>
<use href="#wR" x="404" y="107.2"/>
<use href="#wR" x="438.9" y="107.2"/>
<use href="#wR" x="469.9" y="107.2"/>
<use href="#wR" x="504.8" y="107.2"/>
<use href="#wR" x="535.8" y="107.2"/>
<use href="#wR" x="570.7" y="107.2"/>
<use href="#wB" x="601.7" y="107.2"/>
<use href="#wB" x="636.6" y="107.2"/>
<use href="#wR" x="667.6" y="107.2"/>
<use href="#wR" x="705.2" y="107.2"/>
<use href="#wR" x="736.2" y="107.2"/>
<use href="#wG" x="771.09" y="107.2"/>
<use href="#wR" x="802.09" y="107.2"/>
<use href="#wR" x="836.98" y="107.2"/>
<use href="#wR" x="867.98" y="107.2"/>
<use href="#wR" x="902.87" y="107.2"/>
<use href="#wR" x="1065.65" y="107.2"/>
<use href="#wR" x="1100.54" y="107.2"/>
<use href="#wR" x="1131.54" y="107.2"/>
<use href="#wR" x="1166.43" y="107.2"/>
<use href="#wR" x="1197.43" y="107.2"/>
<use href="#wR" x="1232.32" y="107.2"/>
<use href="#wR" x="1263.32" y="107.2"/>
<use href="#wR" x="1298.21" y="107.2"/>
<use href="#wR" x="1329.21" y="107.2"/>
<use href="#wR" x="1364.1" y="107.2"/>
<use href="#wR" x="1395.1" y="107.2"/>
<use href="#wR" x="109.4" y="145.9"/>
<use href="#wR" x="140.4" y="145.9"/>
<use href="#wR" x="175.3" y="145.9"/>
<use href="#wR" x="206.3" y="145.9"/>
<use href="#wR" x="241.2" y="145.9"/>
<use href="#wR" x="272.2" y="145.9"/>
<use href="#wR" x="307.1" y="145.9"/>
<use href="#wR" x="338.1" y="145.9"/>
<use href="#wR" x="373" y="145.9"/>
<use href="#wR" x="404" y="145.9"/>
<use href="#wR" x="438.9" y="145.9"/>
<use href="#wR" x="469.9" y="145.9"/>
<use href="#wR" x="504.8" y="145.9"/>
<use href="#wR" x="535.8" y="145.9"/>
<use href="#wR" x="570.7" y="145.9"/>
<use href="#wR" x="601.7" y="145.9"/>
<use href="#wB" x="636.6" y="145.9"/>
<use href="#wB" x="667.6" y="145.9"/>
<use href="#wG" x="705.2" y="145.9"/>
<use href="#wR" x="736.2" y="145.9"/>
<use href="#wR" x="771.09" y="145.9"/>
<use href="#wR" x="802.09" y="145.9"/>
<use href="#wR" x="836.98" y="145.9"/>
<use href="#wR" x="867.98" y="145.9"/>
<use href="#wB" x="902.87" y="145.9"/>
<use href="#wR" x="1065.65" y="145.9"/>
<use href="#wR" x="1100.54" y="145.9"/>
<use href="#wR" x="1131.54" y="145.9"/>
<use href="#wR" x="1166.43" y="145.9"/>
<use href="#wR" x="1197.43" y="145.9"/>
<use href="#wR" x="1232.32" y="145.9"/>
<use href="#wR" x="1263.32" y="145.9"/>
<use href="#wR" x="1298.21" y="145.9"/>
<use href="#wB" x="1329.21" y="145.9"/>
<use href="#wR" x="1364.1" y="145.9"/>
<use href="#wR" x="1395.1" y="145.9"/>
<use href="#wR" x="109.4" y="184.6"/>
<use href="#wR" x="140.4" y="184.6"/>
<use href="#wR" x="175.3" y="184.6"/>
<use href="#wR" x="206.3" y="184.6"/>
<use href="#wB" x="241.2" y="184.6"/>
<use href="#wR" x="272.2" y="184.6"/>
<use href="#wR" x="307.1" y="184.6"/>
<use href="#wR" x="338.1" y="184.6"/>
<use href="#wR" x="373" y="184.6"/>
<use href="#wR" x="404" y="184.6"/>
<use href="#wR" x="438.9" y="184.6"/>
<use href="#wB" x="469.9" y="184.6"/>
<use href="#wR" x="504.8" y="184.6"/>
<use href="#wR" x="535.8" y="184.6"/>
<use href="#wR" x="570.7" y="184.6"/>
<use href="#wR" x="601.7" y="184.6"/>
<use href="#wB" x="636.6" y="184.6"/>
<use href="#wR" x="667.6" y="184.6"/>
<use href="#wG" x="705.2" y="184.6"/>
<use href="#wR" x="736.2" y="184.6"/>
<use href="#wR" x="771.09" y="184.6"/>
<use href="#wB" x="802.09" y="184.6"/>
<use href="#wR" x="836.98" y="184.6"/>
<use href="#wR" x="867.98" y="184.6"/>
<use href="#wB" x="902.87" y="184.6"/>
<use href="#wR" x="1065.65" y="184.6"/>
<use href="#wR" x="1100.54" y="184.6"/>
<use href="#wG" x="1131.54" y="184.6"/>
<use href="#wR" x="1166.43" y="184.6"/>
<use href="#wB" x="1197.43" y="184.6"/>
<use href="#wB" x="1232.32" y="184.6"/>
<use href="#wB" x="1263.32" y="184.6"/>
<use href="#wG" x="1298.21" y="184.6"/>
<use href="#wG" x="1329.21" y="184.6"/>
<use href="#wR" x="1364.1" y="184.6"/>
<use href="#wR" x="1395.1" y="184.6"/>
<use href="#wR" x="109.4" y="223.1"/>
<use href="#wG" x="140.4" y="223.1"/>
<use href="#wB" x="175.3" y="223.1"/>
<use href="#wB" x="206.3" y="223.1"/>
<use href="#wB" x="241.2" y="223.1"/>
<use href="#wB" x="272.2" y="223.1"/>
<use href="#wG" x="307.1" y="223.1"/>
<use href="#wG" x="338.1" y="223.1"/>
<use href="#wB" x="373" y="223.1"/>
<use href="#wR" x="404" y="223.1"/>
<use href="#wR" x="438.9" y="223.1"/>
<use href="#wG" x="469.9" y="223.1"/>
<use href="#wG" x="504.8" y="223.1"/>
<use href="#wB" x="535.8" y="223.1"/>
<use href="#wB" x="570.7" y="223.1"/>
<use href="#wB" x="601.7" y="223.1"/>
<use href="#wB" x="636.6" y="223.1"/>
<use href="#wR" x="667.6" y="223.1"/>
<use href="#wB" x="705.2" y="223.1"/>
<use href="#wB" x="736.2" y="223.1"/>
<use href="#wR" x="771.09" y="223.1"/>
<use href="#wR" x="802.09" y="223.1"/>
<use href="#wB" x="836.98" y="223.1"/>
<use href="#wR" x="867.98" y="223.1"/>
<use href="#wR" x="902.87" y="223.1"/>
<use href="#wR" x="1065.65" y="223.1"/>
<use href="#wR" x="1100.54" y="223.1"/>
<use href="#wG" x="1131.54" y="223.1"/>
<use href="#wR" x="1166.43" y="223.1"/>
<use href="#wG" x="1197.43" y="223.1"/>
<use href="#wG" x="1232.32" y="223.1"/>
<use href="#wB" x="1263.32" y="223.1"/>
<use href="#wB" x="1298.21" y="223.1"/>
<use href="#wB" x="1329.21" y="223.1"/>
<use href="#wB" x="1364.1" y="223.1"/>
<use href="#wR" x="1395.1" y="223.1"/>
<use href="#wR" x="109.4" y="261.7"/>
<use href="#wR" x="140.4" y="261.7"/>
<use href="#wR" x="175.3" y="261.7"/>
<use href="#wB" x="206.3" y="261.7"/>
<use href="#wG" x="241.2" y="261.7"/>
<use href="#wB" x="272.2" y="261.7"/>
<use href="#wB" x="307.1" y="261.7"/>
<use href="#wB" x="338.1" y="261.7"/>
<use href="#wR" x="373" y="261.7"/>
<use href="#wB" x="404" y="261.7"/>
<use href="#wR" x="438.9" y="261.7"/>
<use href="#wR" x="469.9" y="261.7"/>
<use href="#wR" x="504.8" y="261.7"/>
<use href="#wR" x="535.8" y="261.7"/>
<use href="#wG" x="570.7" y="261.7"/>
<use href="#wR" x="601.7" y="261.7"/>
<use href="#wG" x="636.6" y="261.7"/>
<use href="#wG" x="667.6" y="261.7"/>
<use href="#wR" x="705.2" y="261.7"/>
<use href="#wG" x="736.2" y="261.7"/>
<use href="#wR" x="771.09" y="261.7"/>
<use href="#wB" x="802.09" y="261.7"/>
<use href="#wG" x="836.98" y="261.7"/>
<use href="#wG" x="867.98" y="261.7"/>
<use href="#wB" x="902.87" y="261.7"/>
<rect x="1054.35" y="249.6" width="23.4" height="14" fill="#fff" stroke="#A2A2A2" stroke-width="0.7"/>
<rect x="1055.75" y="252.4" width="19.8" height="11.2" fill="#E6ECC0" stroke="#777B5C" stroke-width="1.1"/>
<line x1="1063.15" y1="252.4" x2="1063.15" y2="263.6" stroke="#777B5C" stroke-width="1.3"/>
<rect x="1089.24" y="249.6" width="23.4" height="14" fill="#fff" stroke="#A2A2A2" stroke-width="0.7"/>
<rect x="1090.64" y="252.4" width="19.8" height="11.2" fill="#BBDBF9" stroke="#5C728A" stroke-width="1.1"/>
<line x1="1098.04" y1="252.4" x2="1098.04" y2="263.6" stroke="#5C728A" stroke-width="1.3"/>
<rect x="1120.24" y="249.6" width="23.4" height="14" fill="#fff" stroke="#A2A2A2" stroke-width="0.7"/>
<rect x="1121.64" y="252.4" width="19.8" height="11.2" fill="#E6ECC0" stroke="#777B5C" stroke-width="1.1"/>
<line x1="1129.04" y1="252.4" x2="1129.04" y2="263.6" stroke="#777B5C" stroke-width="1.3"/>
<use href="#wB" x="1197.43" y="261.7"/>
<use href="#wB" x="1232.32" y="261.7"/>
<use href="#wB" x="1263.32" y="261.7"/>
<use href="#wB" x="1298.21" y="261.7"/>
<use href="#wB" x="1329.21" y="261.7"/>
<use href="#wR" x="1364.1" y="261.7"/>
<use href="#wB" x="1395.1" y="261.7"/>
<use href="#wB" x="109.4" y="300.2"/>
<use href="#wR" x="140.4" y="300.2"/>
<use href="#wB" x="175.3" y="300.2"/>
<use href="#wR" x="206.3" y="300.2"/>
<use href="#wR" x="241.2" y="300.2"/>
<use href="#wR" x="272.2" y="300.2"/>
<use href="#wB" x="307.1" y="300.2"/>
<use href="#wG" x="338.1" y="300.2"/>
<use href="#wR" x="373" y="300.2"/>
<use href="#wG" x="404" y="300.2"/>
<use href="#wB" x="438.9" y="300.2"/>
<use href="#wB" x="469.9" y="300.2"/>
<use href="#wG" x="504.8" y="300.2"/>
<use href="#wG" x="535.8" y="300.2"/>
<use href="#wB" x="570.7" y="300.2"/>
<use href="#wG" x="601.7" y="300.2"/>
<use href="#wG" x="636.6" y="300.2"/>
<use href="#wB" x="667.6" y="300.2"/>
<use href="#wG" x="705.2" y="300.2"/>
<use href="#wG" x="736.2" y="300.2"/>
<use href="#wG" x="771.09" y="300.2"/>
<use href="#wR" x="802.09" y="300.2"/>
<use href="#wB" x="836.98" y="300.2"/>
<use href="#wB" x="867.98" y="300.2"/>
<use href="#wG" x="902.87" y="300.2"/>
<use href="#wG" x="1131.54" y="300.2"/>
<use href="#wG" x="1166.43" y="300.2"/>
<use href="#wB" x="1197.43" y="300.2"/>
<use href="#wB" x="1232.32" y="300.2"/>
<use href="#wB" x="1263.32" y="300.2"/>
<use href="#wG" x="1298.21" y="300.2"/>
<use href="#wG" x="1329.21" y="300.2"/>
<use href="#wB" x="1364.1" y="300.2"/>
<use href="#wB" x="1395.1" y="300.2"/>
<use href="#wG" x="109.4" y="338.6"/>
<use href="#wG" x="140.4" y="338.6"/>
<use href="#wG" x="175.3" y="338.6"/>
<use href="#wG" x="206.3" y="338.6"/>
<use href="#wG" x="241.2" y="338.6"/>
<use href="#wB" x="272.2" y="338.6"/>
<use href="#wG" x="307.1" y="338.6"/>
<use href="#wG" x="338.1" y="338.6"/>
<use href="#wG" x="373" y="338.6"/>
<use href="#wG" x="404" y="338.6"/>
<use href="#wB" x="438.9" y="338.6"/>
<use href="#wG" x="469.9" y="338.6"/>
<use href="#wG" x="504.8" y="338.6"/>
<use href="#wG" x="535.8" y="338.6"/>
<use href="#wB" x="570.7" y="338.6"/>
<use href="#wG" x="601.7" y="338.6"/>
<use href="#wG" x="636.6" y="338.6"/>
<use href="#wG" x="667.6" y="338.6"/>
<use href="#wG" x="705.2" y="338.6"/>
<use href="#wG" x="736.2" y="338.6"/>
<use href="#wG" x="771.09" y="338.6"/>
<use href="#wG" x="802.09" y="338.6"/>
<use href="#wG" x="836.98" y="338.6"/>
<use href="#wW" x="867.98" y="338.6"/>
<use href="#wW" x="902.87" y="338.6"/>
<rect x="1119.24" y="323.6" width="25" height="55.8" fill="#fff" stroke="#A2A2A2" stroke-width="0.7"/>
<rect x="1121.54" y="328.4" width="19" height="18.6" fill="#fff" stroke="#707070" stroke-width="1"/>
<rect x="1121.54" y="347" width="19" height="32" fill="#fff" stroke="#707070" stroke-width="0.9"/>
<rect x="1124.54" y="349" width="11.5" height="23" fill="#fff" stroke="#8A8A8A" stroke-width="0.7"/>
<line x1="1137.84" y1="349" x2="1137.84" y2="371" stroke="#7A7A7A" stroke-width="1.4"/>
<line x1="1122.54" y1="350" x2="1122.54" y2="379" stroke="#555" stroke-width="0.8" stroke-dasharray="2 1"/>
<use href="#wG" x="1166.43" y="338.6"/>
<use href="#wG" x="1197.43" y="338.6"/>
<use href="#wG" x="1232.32" y="338.6"/>
<use href="#wG" x="1263.32" y="338.6"/>
<use href="#wB" x="1298.21" y="338.6"/>
<use href="#wB" x="1329.21" y="338.6"/>
<use href="#wB" x="1364.1" y="338.6"/>
<use href="#wB" x="1395.1" y="338.6"/>
<use href="#tw" x="941.8" y="107.2"/>
<use href="#tw" x="971.2" y="107.2"/>
<use href="#tw" x="1001" y="107.2"/>
<use href="#tw" x="941.8" y="145.9"/>
<use href="#tw" x="971.2" y="145.9"/>
<use href="#tw" x="1001" y="145.9"/>
<use href="#tw" x="941.8" y="184.6"/>
<use href="#tw" x="971.2" y="184.6"/>
<use href="#tw" x="1001" y="184.6"/>
<use href="#tw" x="941.8" y="223.1"/>
<use href="#tw" x="971.2" y="223.1"/>
<use href="#tw" x="1001" y="223.1"/>
<use href="#bw" x="109.4" y="370.4"/>
<use href="#bw" x="140.4" y="370.4"/>
<use href="#bw" x="175.3" y="370.4"/>
<use href="#bw" x="206.3" y="370.4"/>
<use href="#bw" x="241.2" y="370.4"/>
<use href="#bw" x="272.2" y="370.4"/>
<use href="#bw" x="307.1" y="370.4"/>
<use href="#bw" x="338.1" y="370.4"/>
<use href="#bw" x="373" y="370.4"/>
<use href="#bw" x="404" y="370.4"/>
<use href="#bw" x="438.9" y="370.4"/>
<use href="#bw" x="469.9" y="370.4"/>
<use href="#bw" x="504.8" y="370.4"/>
<use href="#bw" x="535.8" y="370.4"/>
<use href="#bw" x="570.7" y="370.4"/>
<use href="#bw" x="601.7" y="370.4"/>
<use href="#bw" x="636.6" y="370.4"/>
<use href="#bw" x="667.6" y="370.4"/>
<use href="#bw" x="705.2" y="370.4"/>
<use href="#bw" x="736.2" y="370.4"/>
<use href="#bw" x="771.09" y="370.4"/>
<use href="#bw" x="802.09" y="370.4"/>
<use href="#bw" x="836.98" y="370.4"/>
<use href="#bw" x="867.98" y="370.4"/>
<use href="#bw" x="902.87" y="370.4"/>
<rect x="1154.03" y="365.5" width="25.4" height="10.2" fill="#fff" stroke="#A6A6A6" stroke-width="0.7"/>
<rect x="1156.53" y="367.7" width="19.8" height="4.5" fill="#B6B6B6" stroke="#747474" stroke-width="0.9"/>
<rect x="1185.03" y="365.5" width="25.4" height="10.2" fill="#fff" stroke="#A6A6A6" stroke-width="0.7"/>
<rect x="1187.53" y="367.7" width="19.8" height="4.5" fill="#B6B6B6" stroke="#747474" stroke-width="0.9"/>
<rect x="1219.92" y="365.5" width="25.4" height="10.2" fill="#fff" stroke="#A6A6A6" stroke-width="0.7"/>
<rect x="1222.42" y="367.7" width="19.8" height="4.5" fill="#B6B6B6" stroke="#747474" stroke-width="0.9"/>
<rect x="1250.92" y="365.5" width="25.4" height="10.2" fill="#fff" stroke="#A6A6A6" stroke-width="0.7"/>
<rect x="1253.42" y="367.7" width="19.8" height="4.5" fill="#B6B6B6" stroke="#747474" stroke-width="0.9"/>
<rect x="1285.81" y="365.5" width="25.4" height="10.2" fill="#fff" stroke="#A6A6A6" stroke-width="0.7"/>
<rect x="1288.31" y="367.7" width="19.8" height="4.5" fill="#B6B6B6" stroke="#747474" stroke-width="0.9"/>
<rect x="1316.81" y="365.5" width="25.4" height="10.2" fill="#fff" stroke="#A6A6A6" stroke-width="0.7"/>
<rect x="1319.31" y="367.7" width="19.8" height="4.5" fill="#B6B6B6" stroke="#747474" stroke-width="0.9"/>
<rect x="1351.7" y="365.5" width="25.4" height="10.2" fill="#fff" stroke="#A6A6A6" stroke-width="0.7"/>
<rect x="1354.2" y="367.7" width="19.8" height="4.5" fill="#B6B6B6" stroke="#747474" stroke-width="0.9"/>
<rect x="1382.7" y="365.5" width="25.4" height="10.2" fill="#fff" stroke="#A6A6A6" stroke-width="0.7"/>
<rect x="1385.2" y="367.7" width="19.8" height="4.5" fill="#B6B6B6" stroke="#747474" stroke-width="0.9"/>
<path d="M926.6 82.5V383.6M926.6 82.5H1050.4M1016.6 82.5V261.4H932V249.6H926.6M1050.4 82.5V263.4H1174.5V248.2H1181V279H1110.2V379" fill="none" stroke="#7A7A7A" stroke-width="0.8"/>
<line x1="85" y1="383.7" x2="926.6" y2="383.7" stroke="#4A4A4A" stroke-width="1.1"/>
<path d="M1145 376.2L1200 379.6L1259 382L1330 383.2L1426.6 383.6" fill="none" stroke="#C6C6C6" stroke-width="1.8"/>
<g fill="#D4D4D4"><ellipse cx="735.5" cy="362" rx="6" ry="2"/><ellipse cx="723.4" cy="380.9" rx="12" ry="2"/><ellipse cx="765" cy="380.9" rx="12" ry="2"/><ellipse cx="864" cy="380.5" rx="14" ry="2.4"/><ellipse cx="1245" cy="379.2" rx="4" ry="1.8"/><ellipse cx="1258" cy="380.6" rx="3" ry="1.5"/><ellipse cx="1297" cy="381" rx="5" ry="2"/><ellipse cx="1313" cy="380.4" rx="3" ry="1.6"/><ellipse cx="1330" cy="382" rx="4" ry="1.5"/><ellipse cx="1367" cy="381.5" rx="4" ry="1.8"/><ellipse cx="1399" cy="379.5" rx="3.5" ry="2"/><ellipse cx="1384" cy="381.5" rx="3" ry="1.4"/><ellipse cx="1208" cy="355" rx="3" ry="1.2"/><ellipse cx="1321" cy="357" rx="3" ry="1.2"/><ellipse cx="1357" cy="358" rx="3" ry="1.2"/></g>
<line x1="1110.2" y1="378.8" x2="1150" y2="378.8" stroke="#7A7A7A" stroke-width="0.8"/>
<line x1="834.2" y1="137.6" x2="834.2" y2="384" stroke="#3C3C3C" stroke-width="0.55"/>
<line x1="847.9" y1="124" x2="847.9" y2="396" stroke="#3C3C3C" stroke-width="0.55" stroke-dasharray="7 2 1.5 2"/>
<line x1="890.5" y1="124" x2="890.5" y2="396" stroke="#3C3C3C" stroke-width="0.55" stroke-dasharray="7 2 1.5 2"/>
<line x1="846" y1="165.7" x2="892.5" y2="165.7" stroke="#3C3C3C" stroke-width="0.55"/>
<line x1="847.9" y1="173.2" x2="893" y2="173.2" stroke="#3C3C3C" stroke-width="0.55"/>
<line x1="847.9" y1="200.5" x2="893" y2="200.5" stroke="#3C3C3C" stroke-width="0.55"/>
<line x1="847.9" y1="227.5" x2="893" y2="227.5" stroke="#3C3C3C" stroke-width="0.55"/>
<line x1="847.9" y1="255" x2="893" y2="255" stroke="#3C3C3C" stroke-width="0.55"/>
<line x1="847.9" y1="282.6" x2="893" y2="282.6" stroke="#3C3C3C" stroke-width="0.55"/>
<line x1="847.9" y1="310.2" x2="893" y2="310.2" stroke="#3C3C3C" stroke-width="0.55"/>
<line x1="847.9" y1="337.7" x2="893" y2="337.7" stroke="#3C3C3C" stroke-width="0.55"/>
<line x1="847.9" y1="365.3" x2="893" y2="365.3" stroke="#3C3C3C" stroke-width="0.55"/>
<line x1="832" y1="173.2" x2="849" y2="173.2" stroke="#3C3C3C" stroke-width="0.6"/>
<line x1="832" y1="227.5" x2="849" y2="227.5" stroke="#3C3C3C" stroke-width="0.6"/>
<line x1="832" y1="282.6" x2="849" y2="282.6" stroke="#3C3C3C" stroke-width="0.6"/>
<line x1="832" y1="337.7" x2="849" y2="337.7" stroke="#3C3C3C" stroke-width="0.6"/>
<line x1="832" y1="384" x2="895" y2="384" stroke="#3C3C3C" stroke-width="0.6"/>
<line x1="148.3" y1="422" x2="1420.8" y2="422" stroke="#A6A6A6" stroke-width="2"/>
<line x1="148.3" y1="421" x2="148.3" y2="756" stroke="#9A9A9A" stroke-width="0.9"/>
<line x1="1420.8" y1="421" x2="1420.8" y2="756" stroke="#B0B0B0" stroke-width="0.9"/>
<line x1="848.2" y1="421" x2="848.2" y2="756" stroke="#6E6E6E" stroke-width="1"/>
<line x1="106.7" y1="756.1" x2="1426.5" y2="756.1" stroke="#5E5E5E" stroke-width="1"/>
<path d="M154.5 419.3V449M217.4 419.3V449M280.3 419.3V449M343.2 419.3V449M406.1 419.3V449M469 419.3V449M531.9 419.3V449M594.8 419.3V449M657.7 419.3V449M720.6 419.3V449M783.5 419.3V449M911.9 419.3V449M974.8 419.3V449M1037.7 419.3V449M1100.6 419.3V449M1163.5 419.3V449M1226.4 419.3V449M1289.3 419.3V449M1352.2 419.3V449M1415.1 419.3V449" stroke="#8A8A8A" stroke-width="0.8" stroke-dasharray="4 1.7 6.7 2.6 5.4 2.6 6.7 10" fill="none"/>
<path d="M159.6 438h7M175.4 438h7M189.3 438h7M205.1 438h7M222.5 438h7M238.3 438h7M252.2 438h7M268 438h7M285.4 438h7M301.2 438h7M315.1 438h7M330.9 438h7M348.3 438h7M364.1 438h7M378 438h7M393.8 438h7M411.2 438h7M427 438h7M440.9 438h7M456.7 438h7M474.1 438h7M489.9 438h7M503.8 438h7M519.6 438h7M537 438h7M552.8 438h7M566.7 438h7M582.5 438h7M599.9 438h7M615.7 438h7M629.6 438h7M645.4 438h7M662.8 438h7M678.6 438h7M692.5 438h7M708.3 438h7M725.7 438h7M741.5 438h7M755.4 438h7M771.2 438h7M788.6 438h7M804.4 438h7M818.3 438h7M834.1 438h7M854 438h7M869.8 438h7M883.8 438h7M899.6 438h7M916.9 438h7M932.7 438h7M946.7 438h7M962.5 438h7M979.8 438h7M995.6 438h7M1009.6 438h7M1025.4 438h7M1042.7 438h7M1058.5 438h7M1072.5 438h7M1088.3 438h7M1105.6 438h7M1121.4 438h7M1135.4 438h7M1151.2 438h7M1168.5 438h7M1184.3 438h7M1198.3 438h7M1214.1 438h7M1231.4 438h7M1247.2 438h7M1261.2 438h7M1277 438h7M1294.3 438h7M1310.1 438h7M1324.1 438h7M1339.9 438h7M1357.2 438h7M1373 438h7M1387 438h7M1402.8 438h7" stroke="#B8B8B8" stroke-width="1.2" fill="none"/>
<use href="#eR" x="171" y="460.1"/>
<use href="#eB" x="200.7" y="460.1"/>
<use href="#eB" x="233.9" y="460.1"/>
<use href="#eG" x="263.6" y="460.1"/>
<use href="#eG" x="296.8" y="460.1"/>
<use href="#eG" x="326.5" y="460.1"/>
<use href="#eG" x="359.7" y="460.1"/>
<use href="#eG" x="389.4" y="460.1"/>
<use href="#eB" x="422.6" y="460.1"/>
<use href="#eR" x="452.3" y="460.1"/>
<use href="#eG" x="485.5" y="460.1"/>
<use href="#eG" x="515.2" y="460.1"/>
<use href="#eG" x="548.4" y="460.1"/>
<use href="#eG" x="578.1" y="460.1"/>
<use href="#eG" x="611.3" y="460.1"/>
<use href="#eG" x="641" y="460.1"/>
<use href="#eB" x="674.2" y="460.1"/>
<use href="#eG" x="703.9" y="460.1"/>
<use href="#eB" x="737.1" y="460.1"/>
<use href="#eG" x="766.8" y="460.1"/>
<use href="#eR" x="800" y="460.1"/>
<use href="#eG" x="829.7" y="460.1"/>
<use href="#eG" x="865.4" y="460.1"/>
<use href="#eG" x="895.2" y="460.1"/>
<use href="#eR" x="928.3" y="460.1"/>
<use href="#eG" x="958.1" y="460.1"/>
<use href="#eB" x="991.2" y="460.1"/>
<use href="#eR" x="1021" y="460.1"/>
<use href="#eG" x="1054.1" y="460.1"/>
<use href="#eG" x="1083.9" y="460.1"/>
<use href="#eG" x="1117" y="460.1"/>
<use href="#eG" x="1146.8" y="460.1"/>
<use href="#eR" x="1179.9" y="460.1"/>
<use href="#eR" x="1209.7" y="460.1"/>
<use href="#eB" x="1242.8" y="460.1"/>
<use href="#eR" x="1272.6" y="460.1"/>
<use href="#eG" x="1305.7" y="460.1"/>
<use href="#eR" x="1335.5" y="460.1"/>
<use href="#eR" x="1368.6" y="460.1"/>
<use href="#eB" x="1398.4" y="460.1"/>
<use href="#eB" x="171" y="496.9"/>
<use href="#eB" x="200.7" y="496.9"/>
<use href="#eG" x="233.9" y="496.9"/>
<use href="#eG" x="263.6" y="496.9"/>
<use href="#eG" x="296.8" y="496.9"/>
<use href="#eR" x="326.5" y="496.9"/>
<use href="#eG" x="359.7" y="496.9"/>
<use href="#eG" x="389.4" y="496.9"/>
<use href="#eG" x="422.6" y="496.9"/>
<use href="#eB" x="452.3" y="496.9"/>
<use href="#eB" x="485.5" y="496.9"/>
<use href="#eB" x="515.2" y="496.9"/>
<use href="#eG" x="548.4" y="496.9"/>
<use href="#eG" x="578.1" y="496.9"/>
<use href="#eG" x="611.3" y="496.9"/>
<use href="#eG" x="641" y="496.9"/>
<use href="#eG" x="674.2" y="496.9"/>
<use href="#eG" x="703.9" y="496.9"/>
<use href="#eG" x="737.1" y="496.9"/>
<use href="#eG" x="766.8" y="496.9"/>
<use href="#eG" x="800" y="496.9"/>
<use href="#eG" x="829.7" y="496.9"/>
<use href="#eG" x="865.4" y="496.9"/>
<use href="#eG" x="895.2" y="496.9"/>
<use href="#eB" x="928.3" y="496.9"/>
<use href="#eB" x="958.1" y="496.9"/>
<use href="#eB" x="991.2" y="496.9"/>
<use href="#eG" x="1021" y="496.9"/>
<use href="#eG" x="1054.1" y="496.9"/>
<use href="#eG" x="1083.9" y="496.9"/>
<use href="#eG" x="1117" y="496.9"/>
<use href="#eR" x="1146.8" y="496.9"/>
<use href="#eG" x="1179.9" y="496.9"/>
<use href="#eG" x="1209.7" y="496.9"/>
<use href="#eB" x="1242.8" y="496.9"/>
<use href="#eG" x="1272.6" y="496.9"/>
<use href="#eB" x="1305.7" y="496.9"/>
<use href="#eG" x="1335.5" y="496.9"/>
<use href="#eB" x="1368.6" y="496.9"/>
<use href="#eB" x="1398.4" y="496.9"/>
<use href="#eG" x="171" y="533.7"/>
<use href="#eR" x="200.7" y="533.7"/>
<use href="#eR" x="233.9" y="533.7"/>
<use href="#eR" x="263.6" y="533.7"/>
<use href="#eB" x="296.8" y="533.7"/>
<use href="#eR" x="326.5" y="533.7"/>
<use href="#eG" x="359.7" y="533.7"/>
<use href="#eR" x="389.4" y="533.7"/>
<use href="#eG" x="422.6" y="533.7"/>
<use href="#eR" x="452.3" y="533.7"/>
<use href="#eR" x="485.5" y="533.7"/>
<use href="#eR" x="515.2" y="533.7"/>
<use href="#eB" x="548.4" y="533.7"/>
<use href="#eB" x="578.1" y="533.7"/>
<use href="#eB" x="611.3" y="533.7"/>
<use href="#eG" x="641" y="533.7"/>
<use href="#eG" x="674.2" y="533.7"/>
<use href="#eG" x="703.9" y="533.7"/>
<use href="#eG" x="737.1" y="533.7"/>
<use href="#eR" x="766.8" y="533.7"/>
<use href="#eR" x="800" y="533.7"/>
<use href="#eR" x="829.7" y="533.7"/>
<use href="#eR" x="865.4" y="533.7"/>
<use href="#eB" x="895.2" y="533.7"/>
<use href="#eR" x="928.3" y="533.7"/>
<use href="#eR" x="958.1" y="533.7"/>
<use href="#eG" x="991.2" y="533.7"/>
<use href="#eR" x="1021" y="533.7"/>
<use href="#eR" x="1054.1" y="533.7"/>
<use href="#eG" x="1083.9" y="533.7"/>
<use href="#eG" x="1117" y="533.7"/>
<use href="#eR" x="1146.8" y="533.7"/>
<use href="#eR" x="1179.9" y="533.7"/>
<use href="#eR" x="1209.7" y="533.7"/>
<use href="#eR" x="1242.8" y="533.7"/>
<use href="#eR" x="1272.6" y="533.7"/>
<use href="#eR" x="1305.7" y="533.7"/>
<use href="#eR" x="1335.5" y="533.7"/>
<use href="#eR" x="1368.6" y="533.7"/>
<use href="#eB" x="1398.4" y="533.7"/>
<use href="#eG" x="171" y="570.5"/>
<use href="#eG" x="200.7" y="570.5"/>
<use href="#eB" x="233.9" y="570.5"/>
<use href="#eG" x="263.6" y="570.5"/>
<use href="#eG" x="296.8" y="570.5"/>
<use href="#eG" x="326.5" y="570.5"/>
<use href="#eG" x="359.7" y="570.5"/>
<use href="#eG" x="389.4" y="570.5"/>
<use href="#eG" x="422.6" y="570.5"/>
<use href="#eG" x="452.3" y="570.5"/>
<use href="#eB" x="485.5" y="570.5"/>
<use href="#eB" x="515.2" y="570.5"/>
<use href="#eB" x="548.4" y="570.5"/>
<use href="#eB" x="578.1" y="570.5"/>
<use href="#eR" x="611.3" y="570.5"/>
<use href="#eB" x="641" y="570.5"/>
<use href="#eB" x="674.2" y="570.5"/>
<use href="#eB" x="703.9" y="570.5"/>
<use href="#eG" x="737.1" y="570.5"/>
<use href="#eR" x="766.8" y="570.5"/>
<use href="#eR" x="800" y="570.5"/>
<use href="#eB" x="829.7" y="570.5"/>
<use href="#eR" x="865.4" y="570.5"/>
<use href="#eG" x="895.2" y="570.5"/>
<use href="#eG" x="928.3" y="570.5"/>
<use href="#eR" x="958.1" y="570.5"/>
<use href="#eG" x="991.2" y="570.5"/>
<use href="#eB" x="1021" y="570.5"/>
<use href="#eB" x="1054.1" y="570.5"/>
<use href="#eG" x="1083.9" y="570.5"/>
<use href="#eG" x="1117" y="570.5"/>
<use href="#eG" x="1146.8" y="570.5"/>
<use href="#eG" x="1179.9" y="570.5"/>
<use href="#eB" x="1209.7" y="570.5"/>
<use href="#eB" x="1242.8" y="570.5"/>
<use href="#eB" x="1272.6" y="570.5"/>
<use href="#eG" x="1305.7" y="570.5"/>
<use href="#eB" x="1335.5" y="570.5"/>
<use href="#eG" x="1368.6" y="570.5"/>
<use href="#eG" x="1398.4" y="570.5"/>
<use href="#eR" x="171" y="607.3"/>
<use href="#eG" x="200.7" y="607.3"/>
<use href="#eG" x="233.9" y="607.3"/>
<use href="#eG" x="263.6" y="607.3"/>
<use href="#eG" x="296.8" y="607.3"/>
<use href="#eG" x="326.5" y="607.3"/>
<use href="#eG" x="359.7" y="607.3"/>
<use href="#eG" x="389.4" y="607.3"/>
<use href="#eG" x="422.6" y="607.3"/>
<use href="#eG" x="452.3" y="607.3"/>
<use href="#eW" x="485.5" y="607.3"/>
<use href="#eG" x="515.2" y="607.3"/>
<use href="#eB" x="548.4" y="607.3"/>
<use href="#eG" x="578.1" y="607.3"/>
<use href="#eG" x="611.3" y="607.3"/>
<use href="#eB" x="641" y="607.3"/>
<use href="#eB" x="674.2" y="607.3"/>
<use href="#eB" x="703.9" y="607.3"/>
<use href="#eB" x="737.1" y="607.3"/>
<use href="#eB" x="766.8" y="607.3"/>
<use href="#eG" x="800" y="607.3"/>
<use href="#eB" x="829.7" y="607.3"/>
<use href="#eG" x="865.4" y="607.3"/>
<use href="#eG" x="895.2" y="607.3"/>
<use href="#eB" x="928.3" y="607.3"/>
<use href="#eG" x="958.1" y="607.3"/>
<use href="#eG" x="991.2" y="607.3"/>
<use href="#eG" x="1021" y="607.3"/>
<use href="#eG" x="1054.1" y="607.3"/>
<use href="#eG" x="1083.9" y="607.3"/>
<use href="#eG" x="1117" y="607.3"/>
<use href="#eB" x="1146.8" y="607.3"/>
<use href="#eG" x="1179.9" y="607.3"/>
<use href="#eG" x="1209.7" y="607.3"/>
<use href="#eB" x="1242.8" y="607.3"/>
<use href="#eG" x="1272.6" y="607.3"/>
<use href="#eG" x="1305.7" y="607.3"/>
<use href="#eG" x="1335.5" y="607.3"/>
<use href="#eG" x="1368.6" y="607.3"/>
<use href="#eB" x="1398.4" y="607.3"/>
<use href="#eG" x="171" y="644.1"/>
<use href="#eG" x="200.7" y="644.1"/>
<use href="#eW" x="233.9" y="644.1"/>
<use href="#eG" x="263.6" y="644.1"/>
<use href="#eG" x="296.8" y="644.1"/>
<use href="#eG" x="326.5" y="644.1"/>
<use href="#eG" x="359.7" y="644.1"/>
<use href="#eB" x="389.4" y="644.1"/>
<use href="#eB" x="422.6" y="644.1"/>
<use href="#eG" x="452.3" y="644.1"/>
<use href="#eG" x="485.5" y="644.1"/>
<use href="#eG" x="515.2" y="644.1"/>
<use href="#eG" x="548.4" y="644.1"/>
<use href="#eB" x="578.1" y="644.1"/>
<use href="#eG" x="611.3" y="644.1"/>
<use href="#eG" x="641" y="644.1"/>
<use href="#eB" x="674.2" y="644.1"/>
<use href="#eG" x="703.9" y="644.1"/>
<use href="#eB" x="737.1" y="644.1"/>
<use href="#eR" x="766.8" y="644.1"/>
<use href="#eB" x="800" y="644.1"/>
<use href="#eR" x="829.7" y="644.1"/>
<use href="#eB" x="865.4" y="644.1"/>
<use href="#eG" x="895.2" y="644.1"/>
<use href="#eB" x="928.3" y="644.1"/>
<use href="#eG" x="958.1" y="644.1"/>
<use href="#eB" x="991.2" y="644.1"/>
<use href="#eG" x="1021" y="644.1"/>
<use href="#eG" x="1054.1" y="644.1"/>
<use href="#eG" x="1083.9" y="644.1"/>
<use href="#eB" x="1117" y="644.1"/>
<use href="#eG" x="1146.8" y="644.1"/>
<use href="#eG" x="1179.9" y="644.1"/>
<use href="#eB" x="1209.7" y="644.1"/>
<use href="#eB" x="1242.8" y="644.1"/>
<use href="#eR" x="1272.6" y="644.1"/>
<use href="#eG" x="1305.7" y="644.1"/>
<use href="#eW" x="1335.5" y="644.1"/>
<use href="#eG" x="1368.6" y="644.1"/>
<use href="#eW" x="1398.4" y="644.1"/>
<use href="#eG" x="171" y="680.9"/>
<use href="#eG" x="200.7" y="680.9"/>
<use href="#eG" x="233.9" y="680.9"/>
<use href="#eB" x="263.6" y="680.9"/>
<use href="#eG" x="296.8" y="680.9"/>
<use href="#eB" x="326.5" y="680.9"/>
<use href="#eB" x="359.7" y="680.9"/>
<use href="#eG" x="389.4" y="680.9"/>
<use href="#eG" x="422.6" y="680.9"/>
<use href="#eW" x="452.3" y="680.9"/>
<use href="#eG" x="485.5" y="680.9"/>
<use href="#eG" x="515.2" y="680.9"/>
<use href="#eG" x="548.4" y="680.9"/>
<use href="#eB" x="578.1" y="680.9"/>
<use href="#eR" x="611.3" y="680.9"/>
<use href="#eG" x="641" y="680.9"/>
<use href="#eR" x="674.2" y="680.9"/>
<use href="#eG" x="703.9" y="680.9"/>
<use href="#eG" x="737.1" y="680.9"/>
<use href="#eG" x="766.8" y="680.9"/>
<use href="#eR" x="800" y="680.9"/>
<use href="#eG" x="829.7" y="680.9"/>
<use href="#eG" x="865.4" y="680.9"/>
<use href="#eG" x="895.2" y="680.9"/>
<use href="#eG" x="928.3" y="680.9"/>
<use href="#eR" x="958.1" y="680.9"/>
<use href="#eG" x="991.2" y="680.9"/>
<use href="#eG" x="1021" y="680.9"/>
<use href="#eB" x="1054.1" y="680.9"/>
<use href="#eG" x="1083.9" y="680.9"/>
<use href="#eG" x="1117" y="680.9"/>
<use href="#eG" x="1146.8" y="680.9"/>
<use href="#eG" x="1179.9" y="680.9"/>
<use href="#eG" x="1209.7" y="680.9"/>
<use href="#eB" x="1242.8" y="680.9"/>
<use href="#eB" x="1272.6" y="680.9"/>
<use href="#eG" x="1305.7" y="680.9"/>
<use href="#eB" x="1335.5" y="680.9"/>
<use href="#eG" x="1368.6" y="680.9"/>
<use href="#eG" x="1398.4" y="680.9"/>
<use href="#eG" x="171" y="717.7"/>
<use href="#eW" x="200.7" y="717.7"/>
<use href="#eG" x="233.9" y="717.7"/>
<use href="#eW" x="263.6" y="717.7"/>
<use href="#eG" x="296.8" y="717.7"/>
<use href="#eW" x="326.5" y="717.7"/>
<use href="#eG" x="359.7" y="717.7"/>
<use href="#eW" x="389.4" y="717.7"/>
<use href="#eW" x="422.6" y="717.7"/>
<use href="#eG" x="452.3" y="717.7"/>
<use href="#eW" x="485.5" y="717.7"/>
<use href="#eG" x="515.2" y="717.7"/>
<use href="#eG" x="548.4" y="717.7"/>
<use href="#eW" x="578.1" y="717.7"/>
<use href="#eW" x="611.3" y="717.7"/>
<use href="#eG" x="641" y="717.7"/>
<use href="#eW" x="674.2" y="717.7"/>
<use href="#eW" x="703.9" y="717.7"/>
<use href="#eW" x="737.1" y="717.7"/>
<use href="#eG" x="766.8" y="717.7"/>
<use href="#eW" x="800" y="717.7"/>
<use href="#eW" x="829.7" y="717.7"/>
<use href="#eW" x="865.4" y="717.7"/>
<use href="#eG" x="895.2" y="717.7"/>
<use href="#eG" x="928.3" y="717.7"/>
<use href="#eG" x="958.1" y="717.7"/>
<use href="#eG" x="991.2" y="717.7"/>
<use href="#eW" x="1021" y="717.7"/>
<use href="#eW" x="1054.1" y="717.7"/>
<use href="#eW" x="1083.9" y="717.7"/>
<use href="#eW" x="1117" y="717.7"/>
<use href="#eW" x="1146.8" y="717.7"/>
<use href="#eW" x="1179.9" y="717.7"/>
<use href="#eG" x="1209.7" y="717.7"/>
<use href="#eG" x="1242.8" y="717.7"/>
<use href="#eG" x="1272.6" y="717.7"/>
<use href="#eG" x="1305.7" y="717.7"/>
<use href="#eG" x="1335.5" y="717.7"/>
<use href="#eW" x="1368.6" y="717.7"/>
<use href="#eG" x="1398.4" y="717.7"/>
<use href="#be" x="171" y="746.9"/>
<use href="#be" x="200.7" y="746.9"/>
<use href="#be" x="233.9" y="746.9"/>
<use href="#be" x="263.6" y="746.9"/>
<use href="#be" x="296.8" y="746.9"/>
<use href="#be" x="326.5" y="746.9"/>
<use href="#be" x="359.7" y="746.9"/>
<use href="#be" x="422.6" y="746.9"/>
<use href="#be" x="452.3" y="746.9"/>
<use href="#be" x="485.5" y="746.9"/>
<rect x="501.2" y="740.3" width="28" height="13.2" fill="#fff" stroke="#9C9C9C" stroke-width="0.7"/>
<rect x="510" y="742" width="10.4" height="9.5" fill="#fff" stroke="#6E6E6E" stroke-width="0.8"/>
<use href="#be" x="548.4" y="746.9"/>
<rect x="564.1" y="740.3" width="28" height="13.2" fill="#fff" stroke="#9C9C9C" stroke-width="0.7"/>
<rect x="572.9" y="742" width="10.4" height="9.5" fill="#fff" stroke="#6E6E6E" stroke-width="0.8"/>
<use href="#be" x="611.3" y="746.9"/>
<use href="#be" x="641" y="746.9"/>
<use href="#be" x="674.2" y="746.9"/>
<use href="#be" x="703.9" y="746.9"/>
<use href="#be" x="737.1" y="746.9"/>
<use href="#be" x="766.8" y="746.9"/>
<use href="#be" x="800" y="746.9"/>
<use href="#be" x="829.7" y="746.9"/>
<use href="#be" x="865.4" y="746.9"/>
<use href="#be" x="895.2" y="746.9"/>
<use href="#be" x="928.3" y="746.9"/>
<use href="#be" x="958.1" y="746.9"/>
<use href="#be" x="991.2" y="746.9"/>
<use href="#be" x="1021" y="746.9"/>
<use href="#be" x="1083.9" y="746.9"/>
<use href="#be" x="1117" y="746.9"/>
<rect x="1132.8" y="740.3" width="28" height="13.2" fill="#fff" stroke="#9C9C9C" stroke-width="0.7"/>
<rect x="1141.6" y="742" width="10.4" height="9.5" fill="#fff" stroke="#6E6E6E" stroke-width="0.8"/>
<use href="#be" x="1179.9" y="746.9"/>
<use href="#be" x="1209.7" y="746.9"/>
<use href="#be" x="1242.8" y="746.9"/>
<use href="#be" x="1272.6" y="746.9"/>
<use href="#be" x="1305.7" y="746.9"/>
<use href="#be" x="1335.5" y="746.9"/>
<use href="#be" x="1368.6" y="746.9"/>
<use href="#be" x="1398.4" y="746.9"/>
<rect x="377.4" y="740.3" width="24.4" height="13.2" fill="#fff" stroke="#9C9C9C" stroke-width="0.6"/>
<path d="M381.8 756V727.8H396.3V756" fill="none" stroke="#5A5A5A" stroke-width="0.8"/>
<line x1="395.4" y1="728" x2="395.4" y2="756" stroke="#8A8A8A" stroke-width="0.5"/>
<rect x="1042.1" y="740.3" width="24.4" height="13.2" fill="#fff" stroke="#9C9C9C" stroke-width="0.6"/>
<path d="M1046.5 756V727.8H1061V756" fill="none" stroke="#5A5A5A" stroke-width="0.8"/>
<line x1="1060.1" y1="728" x2="1060.1" y2="756" stroke="#8A8A8A" stroke-width="0.5"/>
<line x1="108" y1="444.7" x2="131.6" y2="444.7" stroke="#777" stroke-width="0.6"/>
<line x1="108" y1="481.3" x2="131.6" y2="481.3" stroke="#777" stroke-width="0.6"/>
<line x1="108" y1="518" x2="131.6" y2="518" stroke="#777" stroke-width="0.6"/>
<line x1="108" y1="554.8" x2="131.6" y2="554.8" stroke="#777" stroke-width="0.6"/>
<line x1="108" y1="591.6" x2="131.6" y2="591.6" stroke="#777" stroke-width="0.6"/>
<line x1="108" y1="628.3" x2="131.6" y2="628.3" stroke="#777" stroke-width="0.6"/>
<line x1="108" y1="665" x2="131.6" y2="665" stroke="#777" stroke-width="0.6"/>
<line x1="108" y1="702" x2="131.6" y2="702" stroke="#777" stroke-width="0.6"/>
<line x1="108" y1="738.8" x2="131.6" y2="738.8" stroke="#777" stroke-width="0.6"/>
</g>
<g id="shade" style="mix-blend-mode:multiply">
<path d="M985.6 28.6H1115.2V378.8H985.6ZM438.2 422.5H498.4V478.4H527.9V513.5H560.8V755.4H438.2ZM1100.7 422.5H1163.5V755.4H1039.9V515.6H1068.4V478.4H1100.7Z" fill="#E4E4E4"/>
</g>
<g id="labels">
<use href="#lw" x="109.4" y="69"/>
<use href="#lw" x="140.4" y="69"/>
<use href="#lw" x="175.3" y="69"/>
<use href="#lw" x="206.3" y="69"/>
<use href="#lw" x="241.2" y="69"/>
<use href="#lw" x="272.2" y="69"/>
<use href="#lw" x="307.1" y="69"/>
<use href="#lw" x="338.1" y="69"/>
<use href="#lw" x="373" y="69"/>
<use href="#lw" x="404" y="69"/>
<use href="#lw" x="438.9" y="69"/>
<use href="#lw" x="469.9" y="69"/>
<use href="#lw" x="504.8" y="69"/>
<use href="#lw" x="535.8" y="69"/>
<use href="#lw" x="570.7" y="69"/>
<use href="#lw" x="601.7" y="69"/>
<use href="#lw" x="636.6" y="69"/>
<use href="#lw" x="667.6" y="69"/>
<use href="#lw" x="705.2" y="69"/>
<use href="#lw" x="736.2" y="69"/>
<use href="#lw" x="771.09" y="69"/>
<use href="#lw" x="802.09" y="69"/>
<use href="#lw" x="836.98" y="69"/>
<use href="#lw" x="867.98" y="69"/>
<use href="#lw" x="902.87" y="69"/>
<use href="#lw" x="933.87" y="69"/>
<use href="#lw" x="968.76" y="69"/>
<use href="#lw" x="1034.65" y="69"/>
<use href="#lw" x="1065.65" y="69"/>
<use href="#lw" x="1100.54" y="69"/>
<use href="#lw" x="1131.54" y="69"/>
<use href="#lw" x="1166.43" y="69"/>
<use href="#lw" x="1197.43" y="69"/>
<use href="#lw" x="1232.32" y="69"/>
<use href="#lw" x="1263.32" y="69"/>
<use href="#lw" x="1298.21" y="69"/>
<use href="#lw" x="1329.21" y="69"/>
<use href="#lw" x="1364.1" y="69"/>
<use href="#lw" x="1395.1" y="69"/>
<use href="#lw" x="109.4" y="107.2"/>
<use href="#lw" x="140.4" y="107.2"/>
<use href="#lw" x="175.3" y="107.2"/>
<use href="#lw" x="206.3" y="107.2"/>
<use href="#lw" x="241.2" y="107.2"/>
<use href="#lw" x="272.2" y="107.2"/>
<use href="#lw" x="307.1" y="107.2"/>
<use href="#lw" x="338.1" y="107.2"/>
<use href="#lw" x="373" y="107.2"/>
<use href="#lw" x="404" y="107.2"/>
<use href="#lw" x="438.9" y="107.2"/>
<use href="#lw" x="469.9" y="107.2"/>
<use href="#lw" x="504.8" y="107.2"/>
<use href="#lw" x="535.8" y="107.2"/>
<use href="#lw" x="570.7" y="107.2"/>
<use href="#lw" x="601.7" y="107.2"/>
<use href="#lw" x="636.6" y="107.2"/>
<use href="#lw" x="667.6" y="107.2"/>
<use href="#lw" x="705.2" y="107.2"/>
<use href="#lw" x="736.2" y="107.2"/>
<use href="#lw" x="771.09" y="107.2"/>
<use href="#lw" x="802.09" y="107.2"/>
<use href="#lw" x="836.98" y="107.2"/>
<use href="#lw" x="867.98" y="107.2"/>
<use href="#lw" x="902.87" y="107.2"/>
<use href="#lw" x="1065.65" y="107.2"/>
<use href="#lw" x="1100.54" y="107.2"/>
<use href="#lw" x="1131.54" y="107.2"/>
<use href="#lw" x="1166.43" y="107.2"/>
<use href="#lw" x="1197.43" y="107.2"/>
<use href="#lw" x="1232.32" y="107.2"/>
<use href="#lw" x="1263.32" y="107.2"/>
<use href="#lw" x="1298.21" y="107.2"/>
<use href="#lw" x="1329.21" y="107.2"/>
<use href="#lw" x="1364.1" y="107.2"/>
<use href="#lw" x="1395.1" y="107.2"/>
<use href="#lw" x="109.4" y="145.9"/>
<use href="#lw" x="140.4" y="145.9"/>
<use href="#lw" x="175.3" y="145.9"/>
<use href="#lw" x="206.3" y="145.9"/>
<use href="#lw" x="241.2" y="145.9"/>
<use href="#lw" x="272.2" y="145.9"/>
<use href="#lw" x="307.1" y="145.9"/>
<use href="#lw" x="338.1" y="145.9"/>
<use href="#lw" x="373" y="145.9"/>
<use href="#lw" x="404" y="145.9"/>
<use href="#lw" x="438.9" y="145.9"/>
<use href="#lw" x="469.9" y="145.9"/>
<use href="#lw" x="504.8" y="145.9"/>
<use href="#lw" x="535.8" y="145.9"/>
<use href="#lw" x="570.7" y="145.9"/>
<use href="#lw" x="601.7" y="145.9"/>
<use href="#lw" x="636.6" y="145.9"/>
<use href="#lw" x="667.6" y="145.9"/>
<use href="#lw" x="705.2" y="145.9"/>
<use href="#lw" x="736.2" y="145.9"/>
<use href="#lw" x="771.09" y="145.9"/>
<use href="#lw" x="802.09" y="145.9"/>
<use href="#lw" x="836.98" y="145.9"/>
<use href="#lw" x="867.98" y="145.9"/>
<use href="#lw" x="902.87" y="145.9"/>
<use href="#lw" x="1065.65" y="145.9"/>
<use href="#lw" x="1100.54" y="145.9"/>
<use href="#lw" x="1131.54" y="145.9"/>
<use href="#lw" x="1166.43" y="145.9"/>
<use href="#lw" x="1197.43" y="145.9"/>
<use href="#lw" x="1232.32" y="145.9"/>
<use href="#lw" x="1263.32" y="145.9"/>
<use href="#lw" x="1298.21" y="145.9"/>
<use href="#lw" x="1329.21" y="145.9"/>
<use href="#lw" x="1364.1" y="145.9"/>
<use href="#lw" x="1395.1" y="145.9"/>
<use href="#lw" x="109.4" y="184.6"/>
<use href="#lw" x="140.4" y="184.6"/>
<use href="#lw" x="175.3" y="184.6"/>
<use href="#lw" x="206.3" y="184.6"/>
<use href="#lw" x="241.2" y="184.6"/>
<use href="#lw" x="272.2" y="184.6"/>
<use href="#lw" x="307.1" y="184.6"/>
<use href="#lw" x="338.1" y="184.6"/>
<use href="#lw" x="373" y="184.6"/>
<use href="#lw" x="404" y="184.6"/>
<use href="#lw" x="438.9" y="184.6"/>
<use href="#lw" x="469.9" y="184.6"/>
<use href="#lw" x="504.8" y="184.6"/>
<use href="#lw" x="535.8" y="184.6"/>
<use href="#lw" x="570.7" y="184.6"/>
<use href="#lw" x="601.7" y="184.6"/>
<use href="#lw" x="636.6" y="184.6"/>
<use href="#lw" x="667.6" y="184.6"/>
<use href="#lw" x="705.2" y="184.6"/>
<use href="#lw" x="736.2" y="184.6"/>
<use href="#lw" x="771.09" y="184.6"/>
<use href="#lw" x="802.09" y="184.6"/>
<use href="#lw" x="836.98" y="184.6"/>
<use href="#lw" x="867.98" y="184.6"/>
<use href="#lw" x="902.87" y="184.6"/>
<use href="#lw" x="1065.65" y="184.6"/>
<use href="#lw" x="1100.54" y="184.6"/>
<use href="#lw" x="1131.54" y="184.6"/>
<use href="#lw" x="1166.43" y="184.6"/>
<use href="#lw" x="1197.43" y="184.6"/>
<use href="#lw" x="1232.32" y="184.6"/>
<use href="#lw" x="1263.32" y="184.6"/>
<use href="#lw" x="1298.21" y="184.6"/>
<use href="#lw" x="1329.21" y="184.6"/>
<use href="#lw" x="1364.1" y="184.6"/>
<use href="#lw" x="1395.1" y="184.6"/>
<use href="#lw" x="109.4" y="223.1"/>
<use href="#lw" x="140.4" y="223.1"/>
<use href="#lw" x="175.3" y="223.1"/>
<use href="#lw" x="206.3" y="223.1"/>
<use href="#lw" x="241.2" y="223.1"/>
<use href="#lw" x="272.2" y="223.1"/>
<use href="#lw" x="307.1" y="223.1"/>
<use href="#lw" x="338.1" y="223.1"/>
<use href="#lw" x="373" y="223.1"/>
<use href="#lw" x="404" y="223.1"/>
<use href="#lw" x="438.9" y="223.1"/>
<use href="#lw" x="469.9" y="223.1"/>
<use href="#lw" x="504.8" y="223.1"/>
<use href="#lw" x="535.8" y="223.1"/>
<use href="#lw" x="570.7" y="223.1"/>
<use href="#lw" x="601.7" y="223.1"/>
<use href="#lw" x="636.6" y="223.1"/>
<use href="#lw" x="667.6" y="223.1"/>
<use href="#lw" x="705.2" y="223.1"/>
<use href="#lw" x="736.2" y="223.1"/>
<use href="#lw" x="771.09" y="223.1"/>
<use href="#lw" x="802.09" y="223.1"/>
<use href="#lw" x="836.98" y="223.1"/>
<use href="#lw" x="867.98" y="223.1"/>
<use href="#lw" x="902.87" y="223.1"/>
<use href="#lw" x="1065.65" y="223.1"/>
<use href="#lw" x="1100.54" y="223.1"/>
<use href="#lw" x="1131.54" y="223.1"/>
<use href="#lw" x="1166.43" y="223.1"/>
<use href="#lw" x="1197.43" y="223.1"/>
<use href="#lw" x="1232.32" y="223.1"/>
<use href="#lw" x="1263.32" y="223.1"/>
<use href="#lw" x="1298.21" y="223.1"/>
<use href="#lw" x="1329.21" y="223.1"/>
<use href="#lw" x="1364.1" y="223.1"/>
<use href="#lw" x="1395.1" y="223.1"/>
<use href="#lw" x="109.4" y="261.7"/>
<use href="#lw" x="140.4" y="261.7"/>
<use href="#lw" x="175.3" y="261.7"/>
<use href="#lw" x="206.3" y="261.7"/>
<use href="#lw" x="241.2" y="261.7"/>
<use href="#lw" x="272.2" y="261.7"/>
<use href="#lw" x="307.1" y="261.7"/>
<use href="#lw" x="338.1" y="261.7"/>
<use href="#lw" x="373" y="261.7"/>
<use href="#lw" x="404" y="261.7"/>
<use href="#lw" x="438.9" y="261.7"/>
<use href="#lw" x="469.9" y="261.7"/>
<use href="#lw" x="504.8" y="261.7"/>
<use href="#lw" x="535.8" y="261.7"/>
<use href="#lw" x="570.7" y="261.7"/>
<use href="#lw" x="601.7" y="261.7"/>
<use href="#lw" x="636.6" y="261.7"/>
<use href="#lw" x="667.6" y="261.7"/>
<use href="#lw" x="705.2" y="261.7"/>
<use href="#lw" x="736.2" y="261.7"/>
<use href="#lw" x="771.09" y="261.7"/>
<use href="#lw" x="802.09" y="261.7"/>
<use href="#lw" x="836.98" y="261.7"/>
<use href="#lw" x="867.98" y="261.7"/>
<use href="#lw" x="902.87" y="261.7"/>
<use href="#lw" x="1197.43" y="261.7"/>
<use href="#lw" x="1232.32" y="261.7"/>
<use href="#lw" x="1263.32" y="261.7"/>
<use href="#lw" x="1298.21" y="261.7"/>
<use href="#lw" x="1329.21" y="261.7"/>
<use href="#lw" x="1364.1" y="261.7"/>
<use href="#lw" x="1395.1" y="261.7"/>
<use href="#lw" x="109.4" y="300.2"/>
<use href="#lw" x="140.4" y="300.2"/>
<use href="#lw" x="175.3" y="300.2"/>
<use href="#lw" x="206.3" y="300.2"/>
<use href="#lw" x="241.2" y="300.2"/>
<use href="#lw" x="272.2" y="300.2"/>
<use href="#lw" x="307.1" y="300.2"/>
<use href="#lw" x="338.1" y="300.2"/>
<use href="#lw" x="373" y="300.2"/>
<use href="#lw" x="404" y="300.2"/>
<use href="#lw" x="438.9" y="300.2"/>
<use href="#lw" x="469.9" y="300.2"/>
<use href="#lw" x="504.8" y="300.2"/>
<use href="#lw" x="535.8" y="300.2"/>
<use href="#lw" x="570.7" y="300.2"/>
<use href="#lw" x="601.7" y="300.2"/>
<use href="#lw" x="636.6" y="300.2"/>
<use href="#lw" x="667.6" y="300.2"/>
<use href="#lw" x="705.2" y="300.2"/>
<use href="#lw" x="736.2" y="300.2"/>
<use href="#lw" x="771.09" y="300.2"/>
<use href="#lw" x="802.09" y="300.2"/>
<use href="#lw" x="836.98" y="300.2"/>
<use href="#lw" x="867.98" y="300.2"/>
<use href="#lw" x="902.87" y="300.2"/>
<use href="#lw" x="1131.54" y="300.2"/>
<use href="#lw" x="1166.43" y="300.2"/>
<use href="#lw" x="1197.43" y="300.2"/>
<use href="#lw" x="1232.32" y="300.2"/>
<use href="#lw" x="1263.32" y="300.2"/>
<use href="#lw" x="1298.21" y="300.2"/>
<use href="#lw" x="1329.21" y="300.2"/>
<use href="#lw" x="1364.1" y="300.2"/>
<use href="#lw" x="1395.1" y="300.2"/>
<use href="#lw" x="109.4" y="338.6"/>
<use href="#lw" x="140.4" y="338.6"/>
<use href="#lw" x="175.3" y="338.6"/>
<use href="#lw" x="206.3" y="338.6"/>
<use href="#lw" x="241.2" y="338.6"/>
<use href="#lw" x="272.2" y="338.6"/>
<use href="#lw" x="307.1" y="338.6"/>
<use href="#lw" x="338.1" y="338.6"/>
<use href="#lw" x="373" y="338.6"/>
<use href="#lw" x="404" y="338.6"/>
<use href="#lw" x="438.9" y="338.6"/>
<use href="#lw" x="469.9" y="338.6"/>
<use href="#lw" x="504.8" y="338.6"/>
<use href="#lw" x="535.8" y="338.6"/>
<use href="#lw" x="570.7" y="338.6"/>
<use href="#lw" x="601.7" y="338.6"/>
<use href="#lw" x="636.6" y="338.6"/>
<use href="#lw" x="667.6" y="338.6"/>
<use href="#lw" x="705.2" y="338.6"/>
<use href="#lw" x="736.2" y="338.6"/>
<use href="#lw" x="771.09" y="338.6"/>
<use href="#lw" x="802.09" y="338.6"/>
<use href="#lw" x="836.98" y="338.6"/>
<use href="#lw" x="867.98" y="338.6"/>
<use href="#lw" x="902.87" y="338.6"/>
<use href="#lw" x="1166.43" y="338.6"/>
<use href="#lw" x="1197.43" y="338.6"/>
<use href="#lw" x="1232.32" y="338.6"/>
<use href="#lw" x="1263.32" y="338.6"/>
<use href="#lw" x="1298.21" y="338.6"/>
<use href="#lw" x="1329.21" y="338.6"/>
<use href="#lw" x="1364.1" y="338.6"/>
<use href="#lw" x="1395.1" y="338.6"/>
<use href="#le" x="171" y="460.1"/>
<use href="#le" x="200.7" y="460.1"/>
<use href="#le" x="233.9" y="460.1"/>
<use href="#le" x="263.6" y="460.1"/>
<use href="#le" x="296.8" y="460.1"/>
<use href="#le" x="326.5" y="460.1"/>
<use href="#le" x="359.7" y="460.1"/>
<use href="#le" x="389.4" y="460.1"/>
<use href="#le" x="422.6" y="460.1"/>
<use href="#le" x="452.3" y="460.1"/>
<use href="#le" x="485.5" y="460.1"/>
<use href="#le" x="515.2" y="460.1"/>
<use href="#le" x="548.4" y="460.1"/>
<use href="#le" x="578.1" y="460.1"/>
<use href="#le" x="611.3" y="460.1"/>
<use href="#le" x="641" y="460.1"/>
<use href="#le" x="674.2" y="460.1"/>
<use href="#le" x="703.9" y="460.1"/>
<use href="#le" x="737.1" y="460.1"/>
<use href="#le" x="766.8" y="460.1"/>
<use href="#le" x="800" y="460.1"/>
<use href="#le" x="829.7" y="460.1"/>
<use href="#le" x="865.4" y="460.1"/>
<use href="#le" x="895.2" y="460.1"/>
<use href="#le" x="928.3" y="460.1"/>
<use href="#le" x="958.1" y="460.1"/>
<use href="#le" x="991.2" y="460.1"/>
<use href="#le" x="1021" y="460.1"/>
<use href="#le" x="1054.1" y="460.1"/>
<use href="#le" x="1083.9" y="460.1"/>
<use href="#le" x="1117" y="460.1"/>
<use href="#le" x="1146.8" y="460.1"/>
<use href="#le" x="1179.9" y="460.1"/>
<use href="#le" x="1209.7" y="460.1"/>
<use href="#le" x="1242.8" y="460.1"/>
<use href="#le" x="1272.6" y="460.1"/>
<use href="#le" x="1305.7" y="460.1"/>
<use href="#le" x="1335.5" y="460.1"/>
<use href="#le" x="1368.6" y="460.1"/>
<use href="#le" x="1398.4" y="460.1"/>
<use href="#le" x="171" y="496.9"/>
<use href="#le" x="200.7" y="496.9"/>
<use href="#le" x="233.9" y="496.9"/>
<use href="#le" x="263.6" y="496.9"/>
<use href="#le" x="296.8" y="496.9"/>
<use href="#le" x="326.5" y="496.9"/>
<use href="#le" x="359.7" y="496.9"/>
<use href="#le" x="389.4" y="496.9"/>
<use href="#le" x="422.6" y="496.9"/>
<use href="#le" x="452.3" y="496.9"/>
<use href="#le" x="485.5" y="496.9"/>
<use href="#le" x="515.2" y="496.9"/>
<use href="#le" x="548.4" y="496.9"/>
<use href="#le" x="578.1" y="496.9"/>
<use href="#le" x="611.3" y="496.9"/>
<use href="#le" x="641" y="496.9"/>
<use href="#le" x="674.2" y="496.9"/>
<use href="#le" x="703.9" y="496.9"/>
<use href="#le" x="737.1" y="496.9"/>
<use href="#le" x="766.8" y="496.9"/>
<use href="#le" x="800" y="496.9"/>
<use href="#le" x="829.7" y="496.9"/>
<use href="#le" x="865.4" y="496.9"/>
<use href="#le" x="895.2" y="496.9"/>
<use href="#le" x="928.3" y="496.9"/>
<use href="#le" x="958.1" y="496.9"/>
<use href="#le" x="991.2" y="496.9"/>
<use href="#le" x="1021" y="496.9"/>
<use href="#le" x="1054.1" y="496.9"/>
<use href="#le" x="1083.9" y="496.9"/>
<use href="#le" x="1117" y="496.9"/>
<use href="#le" x="1146.8" y="496.9"/>
<use href="#le" x="1179.9" y="496.9"/>
<use href="#le" x="1209.7" y="496.9"/>
<use href="#le" x="1242.8" y="496.9"/>
<use href="#le" x="1272.6" y="496.9"/>
<use href="#le" x="1305.7" y="496.9"/>
<use href="#le" x="1335.5" y="496.9"/>
<use href="#le" x="1368.6" y="496.9"/>
<use href="#le" x="1398.4" y="496.9"/>
<use href="#le" x="171" y="533.7"/>
<use href="#le" x="200.7" y="533.7"/>
<use href="#le" x="233.9" y="533.7"/>
<use href="#le" x="263.6" y="533.7"/>
<use href="#le" x="296.8" y="533.7"/>
<use href="#le" x="326.5" y="533.7"/>
<use href="#le" x="359.7" y="533.7"/>
<use href="#le" x="389.4" y="533.7"/>
<use href="#le" x="422.6" y="533.7"/>
<use href="#le" x="452.3" y="533.7"/>
<use href="#le" x="485.5" y="533.7"/>
<use href="#le" x="515.2" y="533.7"/>
<use href="#le" x="548.4" y="533.7"/>
<use href="#le" x="578.1" y="533.7"/>
<use href="#le" x="611.3" y="533.7"/>
<use href="#le" x="641" y="533.7"/>
<use href="#le" x="674.2" y="533.7"/>
<use href="#le" x="703.9" y="533.7"/>
<use href="#le" x="737.1" y="533.7"/>
<use href="#le" x="766.8" y="533.7"/>
<use href="#le" x="800" y="533.7"/>
<use href="#le" x="829.7" y="533.7"/>
<use href="#le" x="865.4" y="533.7"/>
<use href="#le" x="895.2" y="533.7"/>
<use href="#le" x="928.3" y="533.7"/>
<use href="#le" x="958.1" y="533.7"/>
<use href="#le" x="991.2" y="533.7"/>
<use href="#le" x="1021" y="533.7"/>
<use href="#le" x="1054.1" y="533.7"/>
<use href="#le" x="1083.9" y="533.7"/>
<use href="#le" x="1117" y="533.7"/>
<use href="#le" x="1146.8" y="533.7"/>
<use href="#le" x="1179.9" y="533.7"/>
<use href="#le" x="1209.7" y="533.7"/>
<use href="#le" x="1242.8" y="533.7"/>
<use href="#le" x="1272.6" y="533.7"/>
<use href="#le" x="1305.7" y="533.7"/>
<use href="#le" x="1335.5" y="533.7"/>
<use href="#le" x="1368.6" y="533.7"/>
<use href="#le" x="1398.4" y="533.7"/>
<use href="#le" x="171" y="570.5"/>
<use href="#le" x="200.7" y="570.5"/>
<use href="#le" x="233.9" y="570.5"/>
<use href="#le" x="263.6" y="570.5"/>
<use href="#le" x="296.8" y="570.5"/>
<use href="#le" x="326.5" y="570.5"/>
<use href="#le" x="359.7" y="570.5"/>
<use href="#le" x="389.4" y="570.5"/>
<use href="#le" x="422.6" y="570.5"/>
<use href="#le" x="452.3" y="570.5"/>
<use href="#le" x="485.5" y="570.5"/>
<use href="#le" x="515.2" y="570.5"/>
<use href="#le" x="548.4" y="570.5"/>
<use href="#le" x="578.1" y="570.5"/>
<use href="#le" x="611.3" y="570.5"/>
<use href="#le" x="641" y="570.5"/>
<use href="#le" x="674.2" y="570.5"/>
<use href="#le" x="703.9" y="570.5"/>
<use href="#le" x="737.1" y="570.5"/>
<use href="#le" x="766.8" y="570.5"/>
<use href="#le" x="800" y="570.5"/>
<use href="#le" x="829.7" y="570.5"/>
<use href="#le" x="865.4" y="570.5"/>
<use href="#le" x="895.2" y="570.5"/>
<use href="#le" x="928.3" y="570.5"/>
<use href="#le" x="958.1" y="570.5"/>
<use href="#le" x="991.2" y="570.5"/>
<use href="#le" x="1021" y="570.5"/>
<use href="#le" x="1054.1" y="570.5"/>
<use href="#le" x="1083.9" y="570.5"/>
<use href="#le" x="1117" y="570.5"/>
<use href="#le" x="1146.8" y="570.5"/>
<use href="#le" x="1179.9" y="570.5"/>
<use href="#le" x="1209.7" y="570.5"/>
<use href="#le" x="1242.8" y="570.5"/>
<use href="#le" x="1272.6" y="570.5"/>
<use href="#le" x="1305.7" y="570.5"/>
<use href="#le" x="1335.5" y="570.5"/>
<use href="#le" x="1368.6" y="570.5"/>
<use href="#le" x="1398.4" y="570.5"/>
<use href="#le" x="171" y="607.3"/>
<use href="#le" x="200.7" y="607.3"/>
<use href="#le" x="233.9" y="607.3"/>
<use href="#le" x="263.6" y="607.3"/>
<use href="#le" x="296.8" y="607.3"/>
<use href="#le" x="326.5" y="607.3"/>
<use href="#le" x="359.7" y="607.3"/>
<use href="#le" x="389.4" y="607.3"/>
<use href="#le" x="422.6" y="607.3"/>
<use href="#le" x="452.3" y="607.3"/>
<use href="#le" x="485.5" y="607.3"/>
<use href="#le" x="515.2" y="607.3"/>
<use href="#le" x="548.4" y="607.3"/>
<use href="#le" x="578.1" y="607.3"/>
<use href="#le" x="611.3" y="607.3"/>
<use href="#le" x="641" y="607.3"/>
<use href="#le" x="674.2" y="607.3"/>
<use href="#le" x="703.9" y="607.3"/>
<use href="#le" x="737.1" y="607.3"/>
<use href="#le" x="766.8" y="607.3"/>
<use href="#le" x="800" y="607.3"/>
<use href="#le" x="829.7" y="607.3"/>
<use href="#le" x="865.4" y="607.3"/>
<use href="#le" x="895.2" y="607.3"/>
<use href="#le" x="928.3" y="607.3"/>
<use href="#le" x="958.1" y="607.3"/>
<use href="#le" x="991.2" y="607.3"/>
<use href="#le" x="1021" y="607.3"/>
<use href="#le" x="1054.1" y="607.3"/>
<use href="#le" x="1083.9" y="607.3"/>
<use href="#le" x="1117" y="607.3"/>
<use href="#le" x="1146.8" y="607.3"/>
<use href="#le" x="1179.9" y="607.3"/>
<use href="#le" x="1209.7" y="607.3"/>
<use href="#le" x="1242.8" y="607.3"/>
<use href="#le" x="1272.6" y="607.3"/>
<use href="#le" x="1305.7" y="607.3"/>
<use href="#le" x="1335.5" y="607.3"/>
<use href="#le" x="1368.6" y="607.3"/>
<use href="#le" x="1398.4" y="607.3"/>
<use href="#le" x="171" y="644.1"/>
<use href="#le" x="200.7" y="644.1"/>
<use href="#le" x="233.9" y="644.1"/>
<use href="#le" x="263.6" y="644.1"/>
<use href="#le" x="296.8" y="644.1"/>
<use href="#le" x="326.5" y="644.1"/>
<use href="#le" x="359.7" y="644.1"/>
<use href="#le" x="389.4" y="644.1"/>
<use href="#le" x="422.6" y="644.1"/>
<use href="#le" x="452.3" y="644.1"/>
<use href="#le" x="485.5" y="644.1"/>
<use href="#le" x="515.2" y="644.1"/>
<use href="#le" x="548.4" y="644.1"/>
<use href="#le" x="578.1" y="644.1"/>
<use href="#le" x="611.3" y="644.1"/>
<use href="#le" x="641" y="644.1"/>
<use href="#le" x="674.2" y="644.1"/>
<use href="#le" x="703.9" y="644.1"/>
<use href="#le" x="737.1" y="644.1"/>
<use href="#le" x="766.8" y="644.1"/>
<use href="#le" x="800" y="644.1"/>
<use href="#le" x="829.7" y="644.1"/>
<use href="#le" x="865.4" y="644.1"/>
<use href="#le" x="895.2" y="644.1"/>
<use href="#le" x="928.3" y="644.1"/>
<use href="#le" x="958.1" y="644.1"/>
<use href="#le" x="991.2" y="644.1"/>
<use href="#le" x="1021" y="644.1"/>
<use href="#le" x="1054.1" y="644.1"/>
<use href="#le" x="1083.9" y="644.1"/>
<use href="#le" x="1117" y="644.1"/>
<use href="#le" x="1146.8" y="644.1"/>
<use href="#le" x="1179.9" y="644.1"/>
<use href="#le" x="1209.7" y="644.1"/>
<use href="#le" x="1242.8" y="644.1"/>
<use href="#le" x="1272.6" y="644.1"/>
<use href="#le" x="1305.7" y="644.1"/>
<use href="#le" x="1335.5" y="644.1"/>
<use href="#le" x="1368.6" y="644.1"/>
<use href="#le" x="1398.4" y="644.1"/>
<use href="#le" x="171" y="680.9"/>
<use href="#le" x="200.7" y="680.9"/>
<use href="#le" x="233.9" y="680.9"/>
<use href="#le" x="263.6" y="680.9"/>
<use href="#le" x="296.8" y="680.9"/>
<use href="#le" x="326.5" y="680.9"/>
<use href="#le" x="359.7" y="680.9"/>
<use href="#le" x="389.4" y="680.9"/>
<use href="#le" x="422.6" y="680.9"/>
<use href="#le" x="452.3" y="680.9"/>
<use href="#le" x="485.5" y="680.9"/>
<use href="#le" x="515.2" y="680.9"/>
<use href="#le" x="548.4" y="680.9"/>
<use href="#le" x="578.1" y="680.9"/>
<use href="#le" x="611.3" y="680.9"/>
<use href="#le" x="641" y="680.9"/>
<use href="#le" x="674.2" y="680.9"/>
<use href="#le" x="703.9" y="680.9"/>
<use href="#le" x="737.1" y="680.9"/>
<use href="#le" x="766.8" y="680.9"/>
<use href="#le" x="800" y="680.9"/>
<use href="#le" x="829.7" y="680.9"/>
<use href="#le" x="865.4" y="680.9"/>
<use href="#le" x="895.2" y="680.9"/>
<use href="#le" x="928.3" y="680.9"/>
<use href="#le" x="958.1" y="680.9"/>
<use href="#le" x="991.2" y="680.9"/>
<use href="#le" x="1021" y="680.9"/>
<use href="#le" x="1054.1" y="680.9"/>
<use href="#le" x="1083.9" y="680.9"/>
<use href="#le" x="1117" y="680.9"/>
<use href="#le" x="1146.8" y="680.9"/>
<use href="#le" x="1179.9" y="680.9"/>
<use href="#le" x="1209.7" y="680.9"/>
<use href="#le" x="1242.8" y="680.9"/>
<use href="#le" x="1272.6" y="680.9"/>
<use href="#le" x="1305.7" y="680.9"/>
<use href="#le" x="1335.5" y="680.9"/>
<use href="#le" x="1368.6" y="680.9"/>
<use href="#le" x="1398.4" y="680.9"/>
<use href="#le" x="171" y="717.7"/>
<use href="#le" x="200.7" y="717.7"/>
<use href="#le" x="233.9" y="717.7"/>
<use href="#le" x="263.6" y="717.7"/>
<use href="#le" x="296.8" y="717.7"/>
<use href="#le" x="326.5" y="717.7"/>
<use href="#le" x="359.7" y="717.7"/>
<use href="#le" x="389.4" y="717.7"/>
<use href="#le" x="422.6" y="717.7"/>
<use href="#le" x="452.3" y="717.7"/>
<use href="#le" x="485.5" y="717.7"/>
<use href="#le" x="515.2" y="717.7"/>
<use href="#le" x="548.4" y="717.7"/>
<use href="#le" x="578.1" y="717.7"/>
<use href="#le" x="611.3" y="717.7"/>
<use href="#le" x="641" y="717.7"/>
<use href="#le" x="674.2" y="717.7"/>
<use href="#le" x="703.9" y="717.7"/>
<use href="#le" x="737.1" y="717.7"/>
<use href="#le" x="766.8" y="717.7"/>
<use href="#le" x="800" y="717.7"/>
<use href="#le" x="829.7" y="717.7"/>
<use href="#le" x="865.4" y="717.7"/>
<use href="#le" x="895.2" y="717.7"/>
<use href="#le" x="928.3" y="717.7"/>
<use href="#le" x="958.1" y="717.7"/>
<use href="#le" x="991.2" y="717.7"/>
<use href="#le" x="1021" y="717.7"/>
<rect x="1046.3" y="712.1" width="16.2" height="11.4" fill="#fff"/>
<use href="#le" x="1083.9" y="717.7"/>
<use href="#le" x="1117" y="717.7"/>
<use href="#le" x="1146.8" y="717.7"/>
<use href="#le" x="1179.9" y="717.7"/>
<use href="#le" x="1209.7" y="717.7"/>
<use href="#le" x="1242.8" y="717.7"/>
<use href="#le" x="1272.6" y="717.7"/>
<use href="#le" x="1305.7" y="717.7"/>
<use href="#le" x="1335.5" y="717.7"/>
<use href="#le" x="1368.6" y="717.7"/>
<use href="#le" x="1398.4" y="717.7"/>
</g>
<g id="lt" transform="scale(0.78 1)">
<text x="140.38" y="71">1221</text>
<text x="180.13" y="71">1222</text>
<text x="224.87" y="71">1223</text>
<text x="264.62" y="71">1224</text>
<text x="309.36" y="71">1225</text>
<text x="349.1" y="71">1226</text>
<text x="393.85" y="71">1227</text>
<text x="433.59" y="71">1228</text>
<text x="478.33" y="71">1229</text>
<text x="518.08" y="71">1230</text>
<text x="562.82" y="71">1231</text>
<text x="602.56" y="71">1232</text>
<text x="647.31" y="71">1233</text>
<text x="687.05" y="71">1234</text>
<text x="731.79" y="71">1235</text>
<text x="771.54" y="71">1236</text>
<text x="816.28" y="71">1237</text>
<text x="856.03" y="71">1238</text>
<text x="904.23" y="71">1239</text>
<text x="943.97" y="71">1240</text>
<text x="988.71" y="71">1241</text>
<text x="1028.45" y="71">1242</text>
<text x="1073.18" y="71">1243</text>
<text x="1112.92" y="71">1244</text>
<text x="1157.65" y="71">1245</text>
<text x="1197.4" y="71">1254</text>
<text x="1242.13" y="71">1255</text>
<text x="1326.6" y="71">1175</text>
<text x="1366.35" y="71">1218</text>
<text x="1411.08" y="71">1219</text>
<text x="1450.82" y="71">1220</text>
<text x="1495.55" y="71">1253</text>
<text x="1535.29" y="71">1246</text>
<text x="1580.03" y="71">1247</text>
<text x="1619.77" y="71">1248</text>
<text x="1664.5" y="71">1249</text>
<text x="1704.24" y="71">1250</text>
<text x="1748.97" y="71">1251</text>
<text x="1788.72" y="71">1252</text>
<text x="140.38" y="109.2">1128</text>
<text x="180.13" y="109.2">1127</text>
<text x="224.87" y="109.2">1126</text>
<text x="264.62" y="109.2">1125</text>
<text x="309.36" y="109.2">1124</text>
<text x="349.1" y="109.2">1123</text>
<text x="393.85" y="109.2">1122</text>
<text x="433.59" y="109.2">1121</text>
<text x="478.33" y="109.2">1120</text>
<text x="518.08" y="109.2">1119</text>
<text x="562.82" y="109.2">1118</text>
<text x="602.56" y="109.2">1117</text>
<text x="647.31" y="109.2">1116</text>
<text x="687.05" y="109.2">1115</text>
<text x="731.79" y="109.2">1114</text>
<text x="771.54" y="109.2">1113</text>
<text x="816.28" y="109.2">1112</text>
<text x="856.03" y="109.2">1111</text>
<text x="904.23" y="109.2">1110</text>
<text x="943.97" y="109.2">1109</text>
<text x="988.71" y="109.2">1108</text>
<text x="1028.45" y="109.2">1107</text>
<text x="1073.18" y="109.2">1106</text>
<text x="1112.92" y="109.2">1105</text>
<text x="1157.65" y="109.2">1104</text>
<text x="1366.35" y="109.2">1131</text>
<text x="1411.08" y="109.2">1130</text>
<text x="1450.82" y="109.2">1129</text>
<text x="1495.55" y="109.2">1119</text>
<text x="1535.29" y="109.2">1103</text>
<text x="1580.03" y="109.2">1102</text>
<text x="1619.77" y="109.2">1101</text>
<text x="1664.5" y="109.2">1100</text>
<text x="1704.24" y="109.2">1099</text>
<text x="1748.97" y="109.2">1098</text>
<text x="1788.72" y="109.2">1097</text>
<text x="140.38" y="147.9">0889</text>
<text x="180.13" y="147.9">0890</text>
<text x="224.87" y="147.9">0891</text>
<text x="264.62" y="147.9">0892</text>
<text x="309.36" y="147.9">0893</text>
<text x="349.1" y="147.9">0894</text>
<text x="393.85" y="147.9">0895</text>
<text x="433.59" y="147.9">0896</text>
<text x="478.33" y="147.9">0897</text>
<text x="518.08" y="147.9">0898</text>
<text x="562.82" y="147.9">0899</text>
<text x="602.56" y="147.9">0900</text>
<text x="647.31" y="147.9">0901</text>
<text x="687.05" y="147.9">0902</text>
<text x="731.79" y="147.9">0903</text>
<text x="771.54" y="147.9">0904</text>
<text x="816.28" y="147.9">0905</text>
<text x="856.03" y="147.9">0906</text>
<text x="904.23" y="147.9">0907</text>
<text x="943.97" y="147.9">0908</text>
<text x="988.71" y="147.9">0909</text>
<text x="1028.45" y="147.9">0910</text>
<text x="1073.18" y="147.9">0911</text>
<text x="1112.92" y="147.9">0912</text>
<text x="1157.65" y="147.9">0913</text>
<text x="1366.35" y="147.9">0886</text>
<text x="1411.08" y="147.9">0887</text>
<text x="1450.82" y="147.9">0888</text>
<text x="1495.55" y="147.9">0958</text>
<text x="1535.29" y="147.9">0914</text>
<text x="1580.03" y="147.9">0915</text>
<text x="1619.77" y="147.9">0916</text>
<text x="1664.5" y="147.9">0917</text>
<text x="1704.24" y="147.9">0918</text>
<text x="1748.97" y="147.9">0919</text>
<text x="1788.72" y="147.9">0920</text>
<text x="140.38" y="186.6">0796</text>
<text x="180.13" y="186.6">0795</text>
<text x="224.87" y="186.6">0794</text>
<text x="264.62" y="186.6">0793</text>
<text x="309.36" y="186.6">0792</text>
<text x="349.1" y="186.6">0791</text>
<text x="393.85" y="186.6">0790</text>
<text x="433.59" y="186.6">0789</text>
<text x="478.33" y="186.6">0788</text>
<text x="518.08" y="186.6">0787</text>
<text x="562.82" y="186.6">0786</text>
<text x="602.56" y="186.6">0785</text>
<text x="647.31" y="186.6">0784</text>
<text x="687.05" y="186.6">0783</text>
<text x="731.79" y="186.6">0782</text>
<text x="771.54" y="186.6">0781</text>
<text x="816.28" y="186.6">0780</text>
<text x="856.03" y="186.6">0779</text>
<text x="904.23" y="186.6">0778</text>
<text x="943.97" y="186.6">0777</text>
<text x="988.71" y="186.6">0776</text>
<text x="1028.45" y="186.6">0775</text>
<text x="1073.18" y="186.6">0774</text>
<text x="1112.92" y="186.6" style="fill:#F01018;stroke:#F01018">0773</text>
<text x="1157.65" y="186.6">0772</text>
<text x="1366.35" y="186.6">0759</text>
<text x="1411.08" y="186.6">0758</text>
<text x="1450.82" y="186.6">0757</text>
<text x="1495.55" y="186.6">0687</text>
<text x="1535.29" y="186.6">0771</text>
<text x="1580.03" y="186.6">0770</text>
<text x="1619.77" y="186.6">0769</text>
<text x="1664.5" y="186.6">0768</text>
<text x="1704.24" y="186.6">0767</text>
<text x="1748.97" y="186.6">0766</text>
<text x="1788.72" y="186.6">0765</text>
<text x="140.38" y="225.1">0557</text>
<text x="180.13" y="225.1">0558</text>
<text x="224.87" y="225.1">0559</text>
<text x="264.62" y="225.1">0560</text>
<text x="309.36" y="225.1">0561</text>
<text x="349.1" y="225.1">0562</text>
<text x="393.85" y="225.1">0563</text>
<text x="433.59" y="225.1">0564</text>
<text x="478.33" y="225.1">0565</text>
<text x="518.08" y="225.1">0566</text>
<text x="562.82" y="225.1">0567</text>
<text x="602.56" y="225.1">0568</text>
<text x="647.31" y="225.1">0569</text>
<text x="687.05" y="225.1">0570</text>
<text x="731.79" y="225.1">0571</text>
<text x="771.54" y="225.1">0572</text>
<text x="816.28" y="225.1">0573</text>
<text x="856.03" y="225.1">0574</text>
<text x="904.23" y="225.1">0575</text>
<text x="943.97" y="225.1">0576</text>
<text x="988.71" y="225.1">0577</text>
<text x="1028.45" y="225.1">0578</text>
<text x="1073.18" y="225.1">0579</text>
<text x="1112.92" y="225.1">0580</text>
<text x="1157.65" y="225.1">0581</text>
<text x="1366.35" y="225.1">0594</text>
<text x="1411.08" y="225.1">0595</text>
<text x="1450.82" y="225.1">0596</text>
<text x="1495.55" y="225.1">0675</text>
<text x="1535.29" y="225.1">0582</text>
<text x="1580.03" y="225.1">0583</text>
<text x="1619.77" y="225.1">0584</text>
<text x="1664.5" y="225.1">0585</text>
<text x="1704.24" y="225.1">0586</text>
<text x="1748.97" y="225.1">0587</text>
<text x="1788.72" y="225.1">0588</text>
<text x="140.38" y="263.7">0465</text>
<text x="180.13" y="263.7">0464</text>
<text x="224.87" y="263.7">0463</text>
<text x="264.62" y="263.7">0462</text>
<text x="309.36" y="263.7">0461</text>
<text x="349.1" y="263.7">0460</text>
<text x="393.85" y="263.7">0459</text>
<text x="433.59" y="263.7">0458</text>
<text x="478.33" y="263.7">0457</text>
<text x="518.08" y="263.7">0456</text>
<text x="562.82" y="263.7">0455</text>
<text x="602.56" y="263.7">0454</text>
<text x="647.31" y="263.7">0453</text>
<text x="687.05" y="263.7">0452</text>
<text x="731.79" y="263.7">0451</text>
<text x="771.54" y="263.7">0450</text>
<text x="816.28" y="263.7">0449</text>
<text x="856.03" y="263.7">0448</text>
<text x="904.23" y="263.7">0447</text>
<text x="943.97" y="263.7">0446</text>
<text x="988.71" y="263.7">0445</text>
<text x="1028.45" y="263.7">0444</text>
<text x="1073.18" y="263.7">0443</text>
<text x="1112.92" y="263.7">0442</text>
<text x="1157.65" y="263.7">0441</text>
<text x="1366.22" y="270.3">0468</text>
<text x="1410.95" y="270.3">0467</text>
<text x="1450.69" y="270.3">0466</text>
<text x="1535.29" y="263.7">0440</text>
<text x="1580.03" y="263.7">0439</text>
<text x="1619.77" y="263.7">0438</text>
<text x="1664.5" y="263.7">0437</text>
<text x="1704.24" y="263.7">0436</text>
<text x="1748.97" y="263.7">0435</text>
<text x="1788.72" y="263.7">0434</text>
<text x="140.38" y="302.2">0305</text>
<text x="180.13" y="302.2">0304</text>
<text x="224.87" y="302.2">0303</text>
<text x="264.62" y="302.2">0302</text>
<text x="309.36" y="302.2">0301</text>
<text x="349.1" y="302.2">0300</text>
<text x="393.85" y="302.2">0299</text>
<text x="433.59" y="302.2">0298</text>
<text x="478.33" y="302.2">0297</text>
<text x="518.08" y="302.2">0296</text>
<text x="562.82" y="302.2">0295</text>
<text x="602.56" y="302.2">0294</text>
<text x="647.31" y="302.2">0293</text>
<text x="687.05" y="302.2">0292</text>
<text x="731.79" y="302.2">0291</text>
<text x="771.54" y="302.2">0290</text>
<text x="816.28" y="302.2">0289</text>
<text x="856.03" y="302.2">0288</text>
<text x="904.23" y="302.2">0287</text>
<text x="943.97" y="302.2">0286</text>
<text x="988.71" y="302.2">0285</text>
<text x="1028.45" y="302.2">0284</text>
<text x="1073.18" y="302.2">0283</text>
<text x="1112.92" y="302.2">0282</text>
<text x="1157.65" y="302.2">0281</text>
<text x="1450.82" y="302.2">0308</text>
<text x="1495.55" y="302.2">0212</text>
<text x="1535.29" y="302.2">0280</text>
<text x="1580.03" y="302.2">0279</text>
<text x="1619.77" y="302.2">0278</text>
<text x="1664.5" y="302.2">0277</text>
<text x="1704.24" y="302.2">0276</text>
<text x="1748.97" y="302.2">0275</text>
<text x="1788.72" y="302.2">0274</text>
<text x="140.38" y="340.6">0072</text>
<text x="180.13" y="340.6">0073</text>
<text x="224.87" y="340.6">0074</text>
<text x="264.62" y="340.6">0075</text>
<text x="309.36" y="340.6">0076</text>
<text x="349.1" y="340.6">0077</text>
<text x="393.85" y="340.6">0078</text>
<text x="433.59" y="340.6">0079</text>
<text x="478.33" y="340.6">0080</text>
<text x="518.08" y="340.6">0081</text>
<text x="562.82" y="340.6">0082</text>
<text x="602.56" y="340.6">0083</text>
<text x="647.31" y="340.6">0084</text>
<text x="687.05" y="340.6">0085</text>
<text x="731.79" y="340.6">0086</text>
<text x="771.54" y="340.6">0087</text>
<text x="816.28" y="340.6">0088</text>
<text x="856.03" y="340.6">0089</text>
<text x="904.23" y="340.6">0090</text>
<text x="943.97" y="340.6">0091</text>
<text x="988.71" y="340.6">0092</text>
<text x="1028.45" y="340.6">0093</text>
<text x="1073.18" y="340.6">0094</text>
<text x="1112.92" y="340.6">0095</text>
<text x="1157.65" y="340.6">0096</text>
<text x="1495.55" y="340.6">0104</text>
<text x="1535.29" y="340.6">0097</text>
<text x="1580.03" y="340.6">0098</text>
<text x="1619.77" y="340.6">0099</text>
<text x="1664.5" y="340.6">0100</text>
<text x="1704.24" y="340.6">0101</text>
<text x="1748.97" y="340.6">0102</text>
<text x="1788.72" y="340.6">0103</text>
<text x="222.05" y="461.5">1177</text>
<text x="260.13" y="461.5">1178</text>
<text x="302.69" y="461.5">1179</text>
<text x="340.77" y="461.5">1180</text>
<text x="383.33" y="461.5">1181</text>
<text x="421.41" y="461.5">1182</text>
<text x="463.97" y="461.5">1183</text>
<text x="502.05" y="461.5">1184</text>
<text x="544.62" y="461.5">1185</text>
<text x="582.69" y="461.5">1186</text>
<text x="625.26" y="461.5">1187</text>
<text x="663.33" y="461.5">1188</text>
<text x="705.9" y="461.5">1189</text>
<text x="743.97" y="461.5">1190</text>
<text x="786.54" y="461.5">1191</text>
<text x="824.62" y="461.5">1192</text>
<text x="867.18" y="461.5">1193</text>
<text x="905.26" y="461.5">1194</text>
<text x="947.82" y="461.5">1195</text>
<text x="985.9" y="461.5">1196</text>
<text x="1028.46" y="461.5">1197</text>
<text x="1066.54" y="461.5">1198</text>
<text x="1112.31" y="461.5">1199</text>
<text x="1150.51" y="461.5">1200</text>
<text x="1192.95" y="461.5">1201</text>
<text x="1231.15" y="461.5">1202</text>
<text x="1273.59" y="461.5">1203</text>
<text x="1311.79" y="461.5">1204</text>
<text x="1354.23" y="461.5">1205</text>
<text x="1392.44" y="461.5">1206</text>
<text x="1434.87" y="461.5">1207</text>
<text x="1473.08" y="461.5">1208</text>
<text x="1515.51" y="461.5">1209</text>
<text x="1553.72" y="461.5">1210</text>
<text x="1596.15" y="461.5">1211</text>
<text x="1634.36" y="461.5">1212</text>
<text x="1676.79" y="461.5">1213</text>
<text x="1715" y="461.5">1214</text>
<text x="1757.44" y="461.5">1215</text>
<text x="1795.64" y="461.5">1216</text>
<text x="222.05" y="498.3">1172</text>
<text x="260.13" y="498.3">1171</text>
<text x="302.69" y="498.3">1170</text>
<text x="340.77" y="498.3">1169</text>
<text x="383.33" y="498.3">1168</text>
<text x="421.41" y="498.3">1167</text>
<text x="463.97" y="498.3">1166</text>
<text x="502.05" y="498.3">1165</text>
<text x="544.62" y="498.3">1164</text>
<text x="582.69" y="498.3">1163</text>
<text x="625.26" y="498.3">1162</text>
<text x="663.33" y="498.3">1161</text>
<text x="705.9" y="498.3">1160</text>
<text x="743.97" y="498.3">1159</text>
<text x="786.54" y="498.3">1158</text>
<text x="824.62" y="498.3">1157</text>
<text x="867.18" y="498.3">1156</text>
<text x="905.26" y="498.3">1155</text>
<text x="947.82" y="498.3">1154</text>
<text x="985.9" y="498.3">1153</text>
<text x="1028.46" y="498.3">1152</text>
<text x="1066.54" y="498.3">1151</text>
<text x="1112.31" y="498.3">1150</text>
<text x="1150.51" y="498.3">1149</text>
<text x="1192.95" y="498.3">1148</text>
<text x="1231.15" y="498.3">1147</text>
<text x="1273.59" y="498.3">1146</text>
<text x="1311.79" y="498.3">1145</text>
<text x="1354.23" y="498.3">1144</text>
<text x="1392.44" y="498.3">1143</text>
<text x="1434.87" y="498.3">1142</text>
<text x="1473.08" y="498.3">1141</text>
<text x="1515.51" y="498.3">1140</text>
<text x="1553.72" y="498.3">1139</text>
<text x="1596.15" y="498.3">1138</text>
<text x="1634.36" y="498.3">1137</text>
<text x="1676.79" y="498.3">1136</text>
<text x="1715" y="498.3">1135</text>
<text x="1757.44" y="498.3">1134</text>
<text x="1795.64" y="498.3">1133</text>
<text x="222.05" y="535.1">0845</text>
<text x="260.13" y="535.1">0846</text>
<text x="302.69" y="535.1">0847</text>
<text x="340.77" y="535.1">0848</text>
<text x="383.33" y="535.1">0849</text>
<text x="421.41" y="535.1">0850</text>
<text x="463.97" y="535.1">0851</text>
<text x="502.05" y="535.1">0852</text>
<text x="544.62" y="535.1">0853</text>
<text x="582.69" y="535.1">0854</text>
<text x="625.26" y="535.1">0855</text>
<text x="663.33" y="535.1">0856</text>
<text x="705.9" y="535.1">0857</text>
<text x="743.97" y="535.1">0858</text>
<text x="786.54" y="535.1">0859</text>
<text x="824.62" y="535.1">0860</text>
<text x="867.18" y="535.1">0861</text>
<text x="905.26" y="535.1">0862</text>
<text x="947.82" y="535.1">0863</text>
<text x="985.9" y="535.1">0864</text>
<text x="1028.46" y="535.1">0865</text>
<text x="1066.54" y="535.1">0866</text>
<text x="1112.31" y="535.1">0867</text>
<text x="1150.51" y="535.1">0868</text>
<text x="1192.95" y="535.1">0869</text>
<text x="1231.15" y="535.1">0870</text>
<text x="1273.59" y="535.1">0871</text>
<text x="1311.79" y="535.1">0872</text>
<text x="1354.23" y="535.1">0873</text>
<text x="1392.44" y="535.1">0874</text>
<text x="1434.87" y="535.1">0875</text>
<text x="1473.08" y="535.1">0876</text>
<text x="1515.51" y="535.1">0877</text>
<text x="1553.72" y="535.1">0878</text>
<text x="1596.15" y="535.1">0879</text>
<text x="1634.36" y="535.1">0880</text>
<text x="1676.79" y="535.1">0881</text>
<text x="1715" y="535.1">0882</text>
<text x="1757.44" y="535.1">0883</text>
<text x="1795.64" y="535.1">0884</text>
<text x="222.05" y="571.9">0840</text>
<text x="260.13" y="571.9">0839</text>
<text x="302.69" y="571.9">0838</text>
<text x="340.77" y="571.9">0837</text>
<text x="383.33" y="571.9">0836</text>
<text x="421.41" y="571.9">0835</text>
<text x="463.97" y="571.9">0834</text>
<text x="502.05" y="571.9">0833</text>
<text x="544.62" y="571.9">0832</text>
<text x="582.69" y="571.9">0831</text>
<text x="625.26" y="571.9">0830</text>
<text x="663.33" y="571.9">0829</text>
<text x="705.9" y="571.9">0828</text>
<text x="743.97" y="571.9">0827</text>
<text x="786.54" y="571.9">0826</text>
<text x="824.62" y="571.9">0825</text>
<text x="867.18" y="571.9">0824</text>
<text x="905.26" y="571.9">0823</text>
<text x="947.82" y="571.9">0822</text>
<text x="985.9" y="571.9">0821</text>
<text x="1028.46" y="571.9">0820</text>
<text x="1066.54" y="571.9">0819</text>
<text x="1112.31" y="571.9">0818</text>
<text x="1150.51" y="571.9">0817</text>
<text x="1192.95" y="571.9">0816</text>
<text x="1231.15" y="571.9">0815</text>
<text x="1273.59" y="571.9">0814</text>
<text x="1311.79" y="571.9">0813</text>
<text x="1354.23" y="571.9">0812</text>
<text x="1392.44" y="571.9">0811</text>
<text x="1434.87" y="571.9">0810</text>
<text x="1473.08" y="571.9">0809</text>
<text x="1515.51" y="571.9">0808</text>
<text x="1553.72" y="571.9">0807</text>
<text x="1596.15" y="571.9">0806</text>
<text x="1634.36" y="571.9">0805</text>
<text x="1676.79" y="571.9">0804</text>
<text x="1715" y="571.9">0803</text>
<text x="1757.44" y="571.9">0802</text>
<text x="1795.64" y="571.9">0801</text>
<text x="222.05" y="608.7">0513</text>
<text x="260.13" y="608.7">0514</text>
<text x="302.69" y="608.7">0515</text>
<text x="340.77" y="608.7">0516</text>
<text x="383.33" y="608.7">0517</text>
<text x="421.41" y="608.7">0518</text>
<text x="463.97" y="608.7">0519</text>
<text x="502.05" y="608.7">0520</text>
<text x="544.62" y="608.7">0521</text>
<text x="582.69" y="608.7">0522</text>
<text x="625.26" y="608.7">0523</text>
<text x="663.33" y="608.7">0524</text>
<text x="705.9" y="608.7">0525</text>
<text x="743.97" y="608.7">0526</text>
<text x="786.54" y="608.7">0527</text>
<text x="824.62" y="608.7">0528</text>
<text x="867.18" y="608.7">0529</text>
<text x="905.26" y="608.7">0530</text>
<text x="947.82" y="608.7">0531</text>
<text x="985.9" y="608.7">0532</text>
<text x="1028.46" y="608.7">0533</text>
<text x="1066.54" y="608.7">0534</text>
<text x="1112.31" y="608.7">0535</text>
<text x="1150.51" y="608.7">0536</text>
<text x="1192.95" y="608.7">0537</text>
<text x="1231.15" y="608.7">0538</text>
<text x="1273.59" y="608.7">0539</text>
<text x="1311.79" y="608.7">0540</text>
<text x="1354.23" y="608.7">0541</text>
<text x="1392.44" y="608.7">0542</text>
<text x="1434.87" y="608.7">0543</text>
<text x="1473.08" y="608.7">0544</text>
<text x="1515.51" y="608.7">0545</text>
<text x="1553.72" y="608.7">0546</text>
<text x="1596.15" y="608.7">0547</text>
<text x="1634.36" y="608.7">0548</text>
<text x="1676.79" y="608.7">0549</text>
<text x="1715" y="608.7">0550</text>
<text x="1757.44" y="608.7">0551</text>
<text x="1795.64" y="608.7">0552</text>
<text x="222.05" y="645.5">0509</text>
<text x="260.13" y="645.5">0508</text>
<text x="302.69" y="645.5">0507</text>
<text x="340.77" y="645.5">0506</text>
<text x="383.33" y="645.5">0505</text>
<text x="421.41" y="645.5">0504</text>
<text x="463.97" y="645.5">0503</text>
<text x="502.05" y="645.5">0502</text>
<text x="544.62" y="645.5">0501</text>
<text x="582.69" y="645.5">0500</text>
<text x="625.26" y="645.5">0499</text>
<text x="663.33" y="645.5">0498</text>
<text x="705.9" y="645.5">0497</text>
<text x="743.97" y="645.5">0496</text>
<text x="786.54" y="645.5">0495</text>
<text x="824.62" y="645.5">0494</text>
<text x="867.18" y="645.5">0493</text>
<text x="905.26" y="645.5">0492</text>
<text x="947.82" y="645.5">0491</text>
<text x="985.9" y="645.5">0490</text>
<text x="1028.46" y="645.5">0489</text>
<text x="1066.54" y="645.5">0488</text>
<text x="1112.31" y="645.5">0487</text>
<text x="1150.51" y="645.5">0486</text>
<text x="1192.95" y="645.5">0485</text>
<text x="1231.15" y="645.5">0484</text>
<text x="1273.59" y="645.5">0483</text>
<text x="1311.79" y="645.5">0482</text>
<text x="1354.23" y="645.5">0481</text>
<text x="1392.44" y="645.5">0480</text>
<text x="1434.87" y="645.5">0479</text>
<text x="1473.08" y="645.5">0478</text>
<text x="1515.51" y="645.5">0477</text>
<text x="1553.72" y="645.5">0476</text>
<text x="1596.15" y="645.5">0475</text>
<text x="1634.36" y="645.5">0474</text>
<text x="1676.79" y="645.5">0473</text>
<text x="1715" y="645.5">0472</text>
<text x="1757.44" y="645.5">0471</text>
<text x="1795.64" y="645.5">0470</text>
<text x="222.05" y="682.3">0347</text>
<text x="260.13" y="682.3">0346</text>
<text x="302.69" y="682.3">0345</text>
<text x="340.77" y="682.3">0344</text>
<text x="383.33" y="682.3">0343</text>
<text x="421.41" y="682.3">0342</text>
<text x="463.97" y="682.3">0341</text>
<text x="502.05" y="682.3">0340</text>
<text x="544.62" y="682.3">0339</text>
<text x="582.69" y="682.3">0338</text>
<text x="625.26" y="682.3">0337</text>
<text x="663.33" y="682.3">0336</text>
<text x="705.9" y="682.3">0335</text>
<text x="743.97" y="682.3">0334</text>
<text x="786.54" y="682.3">0333</text>
<text x="824.62" y="682.3">0332</text>
<text x="867.18" y="682.3">0331</text>
<text x="905.26" y="682.3">0330</text>
<text x="947.82" y="682.3">0329</text>
<text x="985.9" y="682.3">0328</text>
<text x="1028.46" y="682.3">0327</text>
<text x="1066.54" y="682.3">0326</text>
<text x="1112.31" y="682.3">0325</text>
<text x="1150.51" y="682.3">0324</text>
<text x="1192.95" y="682.3">0323</text>
<text x="1231.15" y="682.3">0322</text>
<text x="1273.59" y="682.3">0321</text>
<text x="1311.79" y="682.3">0320</text>
<text x="1354.23" y="682.3">0319</text>
<text x="1392.44" y="682.3">0318</text>
<text x="1434.87" y="682.3">0317</text>
<text x="1473.08" y="682.3">0316</text>
<text x="1515.51" y="682.3">0315</text>
<text x="1553.72" y="682.3">0314</text>
<text x="1596.15" y="682.3">0313</text>
<text x="1634.36" y="682.3">0312</text>
<text x="1676.79" y="682.3">0311</text>
<text x="1715" y="682.3">0310</text>
<text x="1757.44" y="682.3">0309</text>
<text x="1795.64" y="682.3">0308</text>
<text x="222.05" y="719.1">0033</text>
<text x="260.13" y="719.1">0034</text>
<text x="302.69" y="719.1">0035</text>
<text x="340.77" y="719.1">0036</text>
<text x="383.33" y="719.1">0037</text>
<text x="421.41" y="719.1">0038</text>
<text x="463.97" y="719.1">0039</text>
<text x="502.05" y="719.1">0004</text>
<text x="544.62" y="719.1">0040</text>
<text x="582.69" y="719.1">0041</text>
<text x="625.26" y="719.1">0042</text>
<text x="663.33" y="719.1">0043</text>
<text x="705.9" y="719.1">0044</text>
<text x="743.97" y="719.1">0045</text>
<text x="786.54" y="719.1">0046</text>
<text x="824.62" y="719.1">0047</text>
<text x="867.18" y="719.1">0048</text>
<text x="905.26" y="719.1">0049</text>
<text x="947.82" y="719.1">0050</text>
<text x="985.9" y="719.1">0051</text>
<text x="1028.46" y="719.1">0052</text>
<text x="1066.54" y="719.1">0053</text>
<text x="1112.31" y="719.1">0054</text>
<text x="1150.51" y="719.1">0055</text>
<text x="1192.95" y="719.1">0056</text>
<text x="1231.15" y="719.1">0057</text>
<text x="1273.59" y="719.1">0058</text>
<text x="1311.79" y="719.1">0059</text>
<text x="1392.44" y="719.1">0060</text>
<text x="1434.87" y="719.1">0061</text>
<text x="1473.08" y="719.1">0062</text>
<text x="1515.51" y="719.1">0063</text>
<text x="1553.72" y="719.1">0064</text>
<text x="1596.15" y="719.1">0065</text>
<text x="1634.36" y="719.1">0066</text>
<text x="1676.79" y="719.1">0067</text>
<text x="1715" y="719.1">0068</text>
<text x="1757.44" y="719.1">0069</text>
<text x="1795.64" y="719.1">0070</text>
</g>
<g id="captions" stroke="#000" stroke-width="0.18">
<text x="869" y="163.3" font-size="5.6" font-weight="bold" text-anchor="middle" textLength="11" lengthAdjust="spacingAndGlyphs">3,07</text>
<text x="0" y="0" font-size="5.6" font-weight="bold" text-anchor="middle" textLength="13" lengthAdjust="spacingAndGlyphs" transform="translate(831.6 277.5) rotate(-90)">17,26</text>
<text x="1054.4" y="716.9" font-size="5.3" font-weight="bold" text-anchor="middle" textLength="14.6" lengthAdjust="spacingAndGlyphs" stroke="#000" stroke-width="0.2">ohne Nr.</text>
<text x="1054.4" y="722.3" font-size="5.3" font-weight="bold" text-anchor="middle" textLength="11.2" lengthAdjust="spacingAndGlyphs" stroke="#000" stroke-width="0.2">0059a</text>
<text x="388.5" y="706.8" font-size="3.5" font-weight="bold" text-anchor="middle" textLength="21" lengthAdjust="spacingAndGlyphs" stroke="#000" stroke-width="0.2">nicht einsehbar</text>
<text x="868.5" y="763.2" font-size="3.2" font-weight="bold" text-anchor="middle" textLength="11" lengthAdjust="spacingAndGlyphs" stroke="#000" stroke-width="0.2">Max Lori</text>
<text x="868.5" y="766.6" font-size="3.2" font-weight="bold" text-anchor="middle" textLength="13" lengthAdjust="spacingAndGlyphs" stroke="#000" stroke-width="0.2">Brandwirte</text>
<text x="1333.5" y="656.3" font-size="2.7" font-weight="bold" text-anchor="middle" textLength="25" lengthAdjust="spacingAndGlyphs">schwere Wassereint. B.</text>
<text x="1333.5" y="660.2" font-size="2.7" font-weight="bold" text-anchor="middle" textLength="50" lengthAdjust="spacingAndGlyphs">schießt/drumf.03/5/25 2x. Bilder,</text>
<text x="1333.5" y="664.1" font-size="2.7" font-weight="bold" text-anchor="middle" textLength="27" lengthAdjust="spacingAndGlyphs">Flügelunten gerissen</text>
<text x="105.3" y="439.7" font-size="5.6" font-weight="bold" textLength="14.8" lengthAdjust="spacingAndGlyphs" stroke="#000" stroke-width="0.2">+23.26</text>
<text x="131.4" y="438.9" font-size="5.6" font-weight="bold" text-anchor="middle" textLength="7" lengthAdjust="spacingAndGlyphs" stroke="#000" stroke-width="0.2">OK</text>
<path d="M129.1 441.1h5l-2.5 3.6z" fill="none" stroke="#888" stroke-width="0.5"/>
<text x="105.3" y="476.3" font-size="5.6" font-weight="bold" textLength="14.8" lengthAdjust="spacingAndGlyphs" stroke="#000" stroke-width="0.2">+21.02</text>
<text x="131.4" y="475.5" font-size="5.6" font-weight="bold" text-anchor="middle" textLength="10.8" lengthAdjust="spacingAndGlyphs" stroke="#000" stroke-width="0.2">7.OG</text>
<path d="M129.1 477.7h5l-2.5 3.6z" fill="none" stroke="#888" stroke-width="0.5"/>
<text x="105.3" y="513" font-size="5.6" font-weight="bold" textLength="14.8" lengthAdjust="spacingAndGlyphs" stroke="#000" stroke-width="0.2">+18.21</text>
<text x="131.4" y="512.2" font-size="5.6" font-weight="bold" text-anchor="middle" textLength="10.8" lengthAdjust="spacingAndGlyphs" stroke="#000" stroke-width="0.2">6.OG</text>
<path d="M129.1 514.4h5l-2.5 3.6z" fill="none" stroke="#888" stroke-width="0.5"/>
<text x="105.3" y="549.8" font-size="5.6" font-weight="bold" textLength="17" lengthAdjust="spacingAndGlyphs" stroke="#000" stroke-width="0.2">+15.405</text>
<text x="131.4" y="549" font-size="5.6" font-weight="bold" text-anchor="middle" textLength="10.8" lengthAdjust="spacingAndGlyphs" stroke="#000" stroke-width="0.2">5.OG</text>
<path d="M129.1 551.2h5l-2.5 3.6z" fill="none" stroke="#888" stroke-width="0.5"/>
<text x="105.3" y="586.6" font-size="5.6" font-weight="bold" textLength="14.8" lengthAdjust="spacingAndGlyphs" stroke="#000" stroke-width="0.2">+12.60</text>
<text x="131.4" y="585.8" font-size="5.6" font-weight="bold" text-anchor="middle" textLength="10.8" lengthAdjust="spacingAndGlyphs" stroke="#000" stroke-width="0.2">4.OG</text>
<path d="M129.1 588h5l-2.5 3.6z" fill="none" stroke="#888" stroke-width="0.5"/>
<text x="105.3" y="623.3" font-size="5.6" font-weight="bold" textLength="14.8" lengthAdjust="spacingAndGlyphs" stroke="#000" stroke-width="0.2">+9.795</text>
<text x="131.4" y="622.5" font-size="5.6" font-weight="bold" text-anchor="middle" textLength="10.8" lengthAdjust="spacingAndGlyphs" stroke="#000" stroke-width="0.2">3.OG</text>
<path d="M129.1 624.7h5l-2.5 3.6z" fill="none" stroke="#888" stroke-width="0.5"/>
<text x="105.3" y="660" font-size="5.6" font-weight="bold" textLength="12.3" lengthAdjust="spacingAndGlyphs" stroke="#000" stroke-width="0.2">+6.99</text>
<text x="131.4" y="659.2" font-size="5.6" font-weight="bold" text-anchor="middle" textLength="10.8" lengthAdjust="spacingAndGlyphs" stroke="#000" stroke-width="0.2">2.OG</text>
<path d="M129.1 661.4h5l-2.5 3.6z" fill="none" stroke="#888" stroke-width="0.5"/>
<text x="105.3" y="697" font-size="5.6" font-weight="bold" textLength="14.8" lengthAdjust="spacingAndGlyphs" stroke="#000" stroke-width="0.2">+4.185</text>
<text x="131.4" y="696.2" font-size="5.6" font-weight="bold" text-anchor="middle" textLength="10.8" lengthAdjust="spacingAndGlyphs" stroke="#000" stroke-width="0.2">1.OG</text>
<path d="M129.1 698.4h5l-2.5 3.6z" fill="none" stroke="#888" stroke-width="0.5"/>
<text x="105.3" y="733.8" font-size="5.6" font-weight="bold" textLength="12.3" lengthAdjust="spacingAndGlyphs" stroke="#000" stroke-width="0.2">+1.38</text>
<text x="131.4" y="733" font-size="5.6" font-weight="bold" text-anchor="middle" textLength="7" lengthAdjust="spacingAndGlyphs" stroke="#000" stroke-width="0.2">EG</text>
<path d="M129.1 735.2h5l-2.5 3.6z" fill="none" stroke="#888" stroke-width="0.5"/>
<text x="78.1" y="751" font-size="5.4" font-weight="bold" textLength="43.8" lengthAdjust="spacingAndGlyphs" stroke="#000" stroke-width="0.2">115.34 NHN = ± 0.00</text>
<text x="133.2" y="750.2" font-size="5.6" font-weight="bold" text-anchor="middle" textLength="7" lengthAdjust="spacingAndGlyphs" stroke="#000" stroke-width="0.2">EG</text>
<path d="M129.1 752.4h5l-2.5 3.6z" fill="none" stroke="#888" stroke-width="0.5"/>
<text x="86" y="397.2" font-size="9.3" textLength="112" lengthAdjust="spacingAndGlyphs">Ansicht West _ Gutzkowstrasse</text>
<line x1="85" y1="400.5" x2="1416" y2="400.5" stroke="#B5B5B5" stroke-width="0.8"/>
<line x1="1416" y1="400.3" x2="1426" y2="400.3" stroke="#D85AD0" stroke-width="0.8"/>
<text x="891" y="397.2" font-size="9.3" textLength="68.5" lengthAdjust="spacingAndGlyphs">285 Fenster davon:</text>
<rect x="969" y="387.4" width="20.3" height="10.2" fill="#F3B8BA" stroke="#D0D0D0" stroke-width="0.5"/>
<text x="995.7" y="397.2" font-size="9.3" textLength="74" lengthAdjust="spacingAndGlyphs">141 Fenster (49,5 %)</text>
<rect x="1085.4" y="387.4" width="20.3" height="10.2" fill="#BBDBF9" stroke="#D0D0D0" stroke-width="0.5"/>
<text x="1112.1" y="397.2" font-size="9.3" textLength="70.5" lengthAdjust="spacingAndGlyphs">79 Fenster (27,8 %)</text>
<rect x="1201.5" y="387.4" width="20.3" height="10.2" fill="#E6ECC0" stroke="#D0D0D0" stroke-width="0.5"/>
<text x="1228.2" y="397.2" font-size="9.3" textLength="70.5" lengthAdjust="spacingAndGlyphs">63 Fenster (22,0 %)</text>
<rect x="1320" y="387.4" width="20.3" height="10.2" fill="#fff" stroke="#D0D0D0" stroke-width="0.5"/>
<text x="1346.7" y="397.2" font-size="9.3" textLength="58.5" lengthAdjust="spacingAndGlyphs">2 Fenster (0,7%)</text>
<text x="148.7" y="768.8" font-size="9.3" textLength="101.3" lengthAdjust="spacingAndGlyphs">Ansicht Ost _ Gutzkowstrasse</text>
<text x="908" y="768.6" font-size="9.3" textLength="76" lengthAdjust="spacingAndGlyphs">320 +8 Fenster davon:</text>
<rect x="991.3" y="760.7" width="19.8" height="9.4" fill="#F3B8BA" stroke="#D0D0D0" stroke-width="0.5"/>
<text x="1016.1" y="768.6" font-size="9.3" textLength="75.3" lengthAdjust="spacingAndGlyphs">49+1 Fenster (15,2 %)</text>
<rect x="1102.2" y="760.7" width="19.8" height="9.4" fill="#BBDBF9" stroke="#D0D0D0" stroke-width="0.5"/>
<text x="1128.2" y="768.6" font-size="9.3" textLength="66.1" lengthAdjust="spacingAndGlyphs">72 Fenster (21,9 %)</text>
<rect x="1213.4" y="760.7" width="19.8" height="9.4" fill="#E6ECC0" stroke="#D0D0D0" stroke-width="0.5"/>
<text x="1239.5" y="768.6" font-size="9.3" textLength="78.9" lengthAdjust="spacingAndGlyphs">173+2 Fenster (53,4 %)</text>
<rect x="1327.4" y="760.7" width="19.8" height="9.4" fill="#fff" stroke="#D0D0D0" stroke-width="0.5"/>
<text x="1352.4" y="768.6" font-size="9.3" textLength="73.3" lengthAdjust="spacingAndGlyphs">26 +5 Fenster (9,5 %)</text>
<text x="1408.5" y="811.5" font-size="16.6" font-weight="bold" text-anchor="end" fill="#58585A" textLength="308" lengthAdjust="spacingAndGlyphs" stroke="#58585A">Untersuchungsergebnisse in Kategorien</text>
<text x="1408.5" y="833.8" font-size="16.6" text-anchor="end" fill="#58585A" textLength="360" lengthAdjust="spacingAndGlyphs" stroke="#58585A">Übersichtspläne Flügel G, Ansichten West und Ost</text>
<line x1="95" y1="873.4" x2="1413" y2="873.4" stroke="#BDBDBD" stroke-width="0.9"/>
<text x="95.1" y="893.1" font-size="7.1" font-weight="bold" textLength="35.2" lengthAdjust="spacingAndGlyphs">Liegenschaft:</text>
<text x="95.1" y="905.6" font-size="10.7" textLength="100.1" lengthAdjust="spacingAndGlyphs">Finanzämter Nord/Süd</text>
<text x="95.1" y="920" font-size="10.7" textLength="73.5" lengthAdjust="spacingAndGlyphs">Rabenerstraße 1</text>
<text x="95.1" y="934.8" font-size="10.7" textLength="68" lengthAdjust="spacingAndGlyphs">01069 Dresden</text>
<text x="95.1" y="944" font-size="7.1" font-weight="bold" textLength="53.3" lengthAdjust="spacingAndGlyphs">Maßnahmenummer:</text>
<text x="95.1" y="956.8" font-size="10.7" textLength="72.5" lengthAdjust="spacingAndGlyphs">0404504 C 0001</text>
<text x="264.2" y="893.1" font-size="7.1" font-weight="bold" textLength="30" lengthAdjust="spacingAndGlyphs">Maßnahme:</text>
<text x="264.2" y="905.6" font-size="10.7" textLength="172" lengthAdjust="spacingAndGlyphs">Bericht zur Bestandsuntersuchung und</text>
<text x="264.2" y="920" font-size="10.7" textLength="88" lengthAdjust="spacingAndGlyphs">Schadenserfassung</text>
<text x="264.2" y="928.8" font-size="7.1" font-weight="bold" textLength="11.8" lengthAdjust="spacingAndGlyphs">Titel:</text>
<text x="264.2" y="942" font-size="10.7" textLength="129" lengthAdjust="spacingAndGlyphs">Schadenserfassung Flügel G</text>
<text x="264.2" y="956.6" font-size="10.7" textLength="57.5" lengthAdjust="spacingAndGlyphs">Ansicht West</text>
<text x="264.2" y="971" font-size="10.7" textLength="50.4" lengthAdjust="spacingAndGlyphs">Ansicht Ost</text>
<text x="1206" y="920.8" font-size="7.1" font-weight="bold" textLength="18.9" lengthAdjust="spacingAndGlyphs">Datum:</text>
<text x="1206" y="934.9" font-size="11.9" textLength="57.2" lengthAdjust="spacingAndGlyphs">20. Mai 2025</text>
<text x="1336" y="953.6" font-size="23.5" textLength="66.5" lengthAdjust="spacingAndGlyphs">Blatt 26</text>
</g>
<g id="logos">
<g fill="#3A3A3A" font-size="15.5">
<text x="751" y="920.2" text-anchor="end" textLength="197" lengthAdjust="spacingAndGlyphs">STAATSBETRIEB IMMOBILIEN-</text>
<text x="751" y="938.8" text-anchor="end" textLength="157" lengthAdjust="spacingAndGlyphs">UND BAUMANAGEMENT</text>
<text x="751" y="957.4" text-anchor="end" textLength="20" lengthAdjust="spacingAndGlyphs">SIB</text>
</g>
<line x1="767.7" y1="910" x2="767.7" y2="960" stroke="#8A8A8A" stroke-width="1.2"/>
<clipPath id="sh"><path d="M786.8 909.8H830.6V941Q830.6 951 808.7 959Q786.8 951 786.8 941Z"/></clipPath>
<g clip-path="url(#sh)">
<rect x="786" y="909" width="46" height="51" fill="#F6D40F"/>
<rect x="786" y="909.8" width="46" height="4.75" fill="#151515"/>
<rect x="786" y="919.3" width="46" height="4.75" fill="#151515"/>
<rect x="786" y="928.8" width="46" height="4.75" fill="#151515"/>
<rect x="786" y="938.3" width="46" height="4.75" fill="#151515"/>
<rect x="786" y="947.8" width="46" height="4.75" fill="#151515"/>
<path d="M785 909 L792.5 907.5 Q812 930 830 944.5 L826.5 951.5 Q806 935 785 913 Z" fill="#2F8F3C" stroke="#124A1B" stroke-width="0.7"/>
<circle cx="797.0" cy="912.8" r="2.1" fill="#2F8F3C" stroke="#124A1B" stroke-width="0.6"/>
<circle cx="797.2" cy="912.6" r="0.8" fill="#E9D94A"/>
<circle cx="804.5" cy="919.6" r="2.1" fill="#2F8F3C" stroke="#124A1B" stroke-width="0.6"/>
<circle cx="804.7" cy="919.4" r="0.8" fill="#E9D94A"/>
<circle cx="811.8" cy="926.6" r="2.1" fill="#2F8F3C" stroke="#124A1B" stroke-width="0.6"/>
<circle cx="812.0" cy="926.4" r="0.8" fill="#E9D94A"/>
<circle cx="819.2" cy="933.4" r="2.1" fill="#2F8F3C" stroke="#124A1B" stroke-width="0.6"/>
<circle cx="819.4" cy="933.2" r="0.8" fill="#E9D94A"/>
<circle cx="826.3" cy="939.6" r="2.1" fill="#2F8F3C" stroke="#124A1B" stroke-width="0.6"/>
<circle cx="826.5" cy="939.4" r="0.8" fill="#E9D94A"/>
</g>
<path d="M786.8 909.8H830.6V941Q830.6 951 808.7 959Q786.8 951 786.8 941Z" fill="none" stroke="#151515" stroke-width="0.8"/>
<text x="838.6" y="920.4" font-size="13" fill="#222" textLength="55" lengthAdjust="spacingAndGlyphs">Freistaat</text>
<text x="837" y="943" font-size="27.2" fill="#111" textLength="115.5" lengthAdjust="spacingAndGlyphs">SACHSEN</text>
<path d="M1016.7 911.5H1036.2V917.7H1024.2V926.5L1036.2 936V952.5L1034 959L1029.5 952.5V939.5L1016.7 929Z" fill="#4D6E86"/>
<path d="M1040.2 911.5H1051.6Q1048.4 913.6 1048.2 919V952.4L1040.2 959.2Z" fill="#8B8784"/>
<text x="1058.6" y="926.5" font-size="18.6" font-weight="bold" fill="#8B8784" textLength="78.5" lengthAdjust="spacing">STÖHR</text>
<text x="1058.6" y="943.8" font-size="19.7" fill="#8B8784" textLength="78.5" lengthAdjust="spacingAndGlyphs">INGENIEURE</text>
</g>
</svg>
</body></html>
